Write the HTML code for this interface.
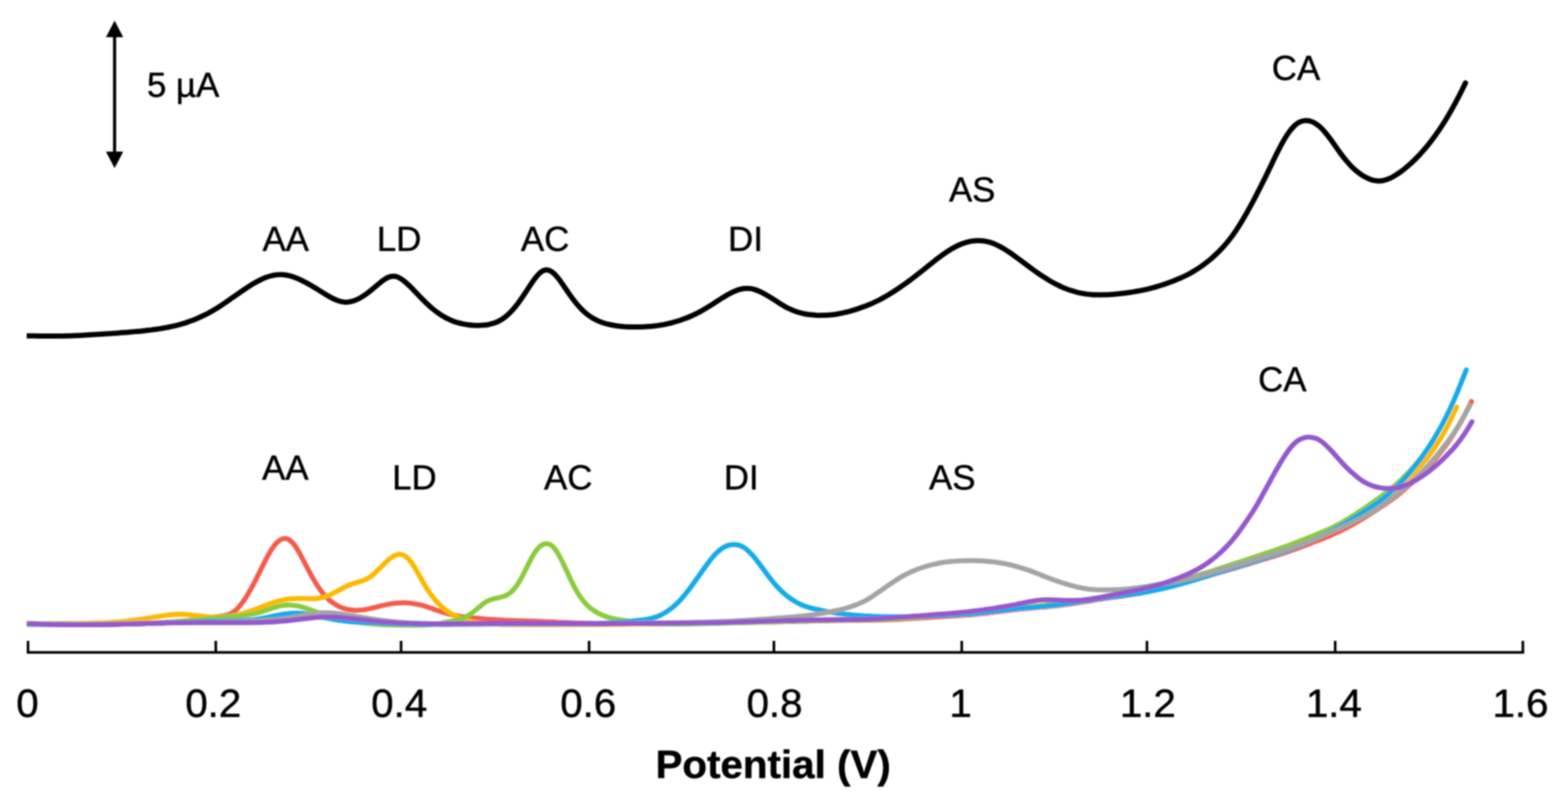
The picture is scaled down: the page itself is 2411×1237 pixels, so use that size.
<!DOCTYPE html>
<html lang="en"><head><meta charset="utf-8"><title>Potential (V)</title>
<style>html,body{margin:0;padding:0;background:#fff;}body{width:2411px;height:1237px;overflow:hidden;}svg{display:block;}text{font-family:"Liberation Sans",Arial,Helvetica,sans-serif;fill:#000;stroke:#000;stroke-width:0.7;stroke-linejoin:round;}</style></head><body>
<svg width="2411" height="1237" viewBox="0 0 2411 1237">
<defs><filter id="b" x="-2%" y="-2%" width="104%" height="104%"><feGaussianBlur stdDeviation="0.8"/></filter></defs>
<rect width="2411" height="1237" fill="#fff"/>
<g filter="url(#b)">
<clipPath id="c"><rect x="40.9" y="0" width="2400" height="1237"/></clipPath>
<g clip-path="url(#c)">
<g fill="none" stroke-width="7.6" stroke-linejoin="round" stroke-linecap="round">
<path d="M41.5,959.5C44.2,959.5 46.8,959.6 49.5,959.6C52.2,959.6 54.8,959.7 57.5,959.7C60.1,959.8 62.8,959.8 65.5,959.8C68.1,959.9 70.8,959.9 73.5,959.9C76.1,960.0 78.8,960.0 81.4,960.0C84.1,960.1 86.8,960.1 89.4,960.1C92.1,960.2 94.8,960.2 97.4,960.2C100.1,960.3 102.8,960.3 105.4,960.3C108.1,960.3 110.7,960.4 113.4,960.4C116.1,960.4 118.7,960.4 121.4,960.4C124.1,960.5 126.7,960.5 129.4,960.5C132.0,960.5 134.7,960.5 137.4,960.5C140.0,960.6 142.7,960.6 145.4,960.6C148.0,960.6 150.7,960.6 153.4,960.6C156.0,960.6 158.7,960.6 161.3,960.6C164.0,960.6 166.7,960.5 169.3,960.5C172.0,960.5 174.7,960.5 177.3,960.5C180.0,960.4 182.6,960.4 185.3,960.4C188.0,960.3 190.6,960.3 193.3,960.2C196.0,960.2 198.6,960.1 201.3,960.1C203.9,960.0 206.6,959.9 209.3,959.9C211.9,959.8 214.6,959.7 217.3,959.6C219.9,959.5 222.6,959.4 225.3,959.3C227.9,959.2 230.6,959.1 233.2,959.0C235.9,958.8 238.6,958.7 241.2,958.6C243.9,958.4 246.6,958.3 249.2,958.1C251.9,957.9 254.5,957.8 257.2,957.6C259.9,957.4 262.5,957.2 265.2,957.0C267.9,956.8 270.5,956.6 273.2,956.3C275.9,956.1 278.5,955.9 281.2,955.6C283.8,955.3 286.5,955.1 289.2,954.8C291.8,954.5 294.5,954.2 297.2,953.9C299.8,953.6 302.5,953.3 305.1,953.0C307.8,952.6 310.5,952.3 313.1,951.9C315.8,951.6 318.5,951.2 321.1,950.8C323.8,950.4 326.5,950.0 329.1,949.6C331.8,949.2 334.4,948.8 337.1,948.4C339.8,948.0 342.4,947.7 345.1,947.2C347.8,946.7 350.4,946.0 353.1,944.9C355.7,943.8 358.4,942.2 361.1,940.0C363.7,937.8 366.4,935.1 369.1,931.9C371.7,928.7 374.4,925.0 377.1,920.9C379.7,916.8 382.4,912.3 385.0,907.6C387.7,902.8 390.4,897.7 393.0,892.5C395.7,887.2 398.4,881.8 401.0,876.4C403.7,871.0 406.3,865.6 409.0,860.5C411.7,855.4 414.3,850.5 417.0,846.2C419.7,842.0 422.3,838.3 425.0,835.6C427.6,832.8 430.3,830.8 433.0,829.6C435.6,828.5 438.3,828.1 441.0,828.8C443.6,829.5 446.3,831.2 449.0,834.0C451.6,836.7 454.3,840.4 456.9,844.8C459.6,849.1 462.3,854.1 464.9,859.2C467.6,864.2 470.3,869.4 472.9,874.4C475.6,879.5 478.2,884.5 480.9,889.2C483.6,893.9 486.2,898.4 488.9,902.4C491.6,906.5 494.2,910.1 496.9,913.4C499.6,916.6 502.2,919.4 504.9,921.8C507.5,924.2 510.2,926.3 512.9,928.2C515.5,930.0 518.2,931.6 520.9,932.9C523.5,934.2 526.2,935.3 528.8,936.1C531.5,937.0 534.2,937.6 536.8,938.0C539.5,938.5 542.2,938.7 544.8,938.9C547.5,939.0 550.2,939.0 552.8,938.8C555.5,938.7 558.1,938.4 560.8,938.0C563.5,937.5 566.1,937.0 568.8,936.4C571.5,935.8 574.1,935.1 576.8,934.5C579.4,933.8 582.1,933.1 584.8,932.4C587.4,931.8 590.1,931.2 592.8,930.6C595.4,930.0 598.1,929.5 600.8,929.1C603.4,928.6 606.1,928.3 608.7,928.0C611.4,927.7 614.1,927.5 616.7,927.5C619.4,927.4 622.1,927.4 624.7,927.5C627.4,927.7 630.0,927.9 632.7,928.2C635.4,928.6 638.0,929.0 640.7,929.5C643.4,930.0 646.0,930.6 648.7,931.3C651.4,932.0 654.0,932.8 656.7,933.6C659.3,934.5 662.0,935.4 664.7,936.3C667.3,937.2 670.0,938.2 672.7,939.2C675.3,940.1 678.0,941.1 680.6,941.9C683.3,942.8 686.0,943.7 688.6,944.4C691.3,945.2 694.0,945.8 696.6,946.4C699.3,946.9 701.9,947.4 704.6,947.8C707.3,948.2 709.9,948.6 712.6,948.9C715.3,949.2 717.9,949.6 720.6,949.8C723.3,950.1 725.9,950.4 728.6,950.7C731.2,951.0 733.9,951.2 736.6,951.5C739.2,951.7 741.9,951.9 744.6,952.2C747.2,952.4 749.9,952.6 752.5,952.8C755.2,953.0 757.9,953.2 760.5,953.3C763.2,953.5 765.9,953.7 768.5,953.8C771.2,954.0 773.9,954.1 776.5,954.2C779.2,954.4 781.8,954.5 784.5,954.6C787.2,954.7 789.8,954.8 792.5,954.9C795.2,955.0 797.8,955.0 800.5,955.1C803.1,955.2 805.8,955.3 808.5,955.4C811.1,955.5 813.8,955.5 816.5,955.6C819.1,955.7 821.8,955.8 824.5,955.9C827.1,956.0 829.8,956.1 832.4,956.2C835.1,956.3 837.8,956.4 840.4,956.6C843.1,956.7 845.8,956.8 848.4,956.9C851.1,957.0 853.7,957.1 856.4,957.3C859.1,957.4 861.7,957.5 864.4,957.6C867.1,957.7 869.7,957.8 872.4,957.9C875.1,958.1 877.7,958.2 880.4,958.3C883.0,958.4 885.7,958.5 888.4,958.6C891.0,958.7 893.7,958.8 896.4,958.9C899.0,959.0 901.7,959.1 904.3,959.1C907.0,959.2 909.7,959.3 912.3,959.4C915.0,959.4 917.7,959.5 920.3,959.5C923.0,959.6 925.7,959.7 928.3,959.7C931.0,959.8 933.6,959.8 936.3,959.8C939.0,959.9 941.6,959.9 944.3,959.9C947.0,960.0 949.6,960.0 952.3,960.0C954.9,960.0 957.6,960.0 960.3,960.1C962.9,960.1 965.6,960.1 968.3,960.1C970.9,960.1 973.6,960.1 976.2,960.1C978.9,960.1 981.6,960.1 984.2,960.1C986.9,960.1 989.6,960.1 992.2,960.0C994.9,960.0 997.6,960.0 1000.2,960.0C1002.9,960.0 1005.5,960.0 1008.2,959.9C1010.9,959.9 1013.5,959.9 1016.2,959.9C1018.9,959.8 1021.5,959.8 1024.2,959.8C1026.8,959.7 1029.5,959.7 1032.2,959.7C1034.8,959.6 1037.5,959.6 1040.2,959.5C1042.8,959.5 1045.5,959.5 1048.2,959.4C1050.8,959.4 1053.5,959.3 1056.1,959.3C1058.8,959.3 1061.5,959.2 1064.1,959.2C1066.8,959.1 1069.5,959.1 1072.1,959.0C1074.8,959.0 1077.4,958.9 1080.1,958.9C1082.8,958.8 1085.4,958.8 1088.1,958.7C1090.8,958.7 1093.4,958.6 1096.1,958.6C1098.8,958.5 1101.4,958.5 1104.1,958.4C1106.7,958.4 1109.4,958.3 1112.1,958.3C1114.7,958.2 1117.4,958.2 1120.1,958.1C1122.7,958.1 1125.4,958.0 1128.0,958.0C1130.7,957.9 1133.4,957.9 1136.0,957.8C1138.7,957.8 1141.4,957.7 1144.0,957.7C1146.7,957.6 1149.4,957.6 1152.0,957.5C1154.7,957.5 1157.3,957.4 1160.0,957.4C1162.7,957.3 1165.3,957.2 1168.0,957.2C1170.7,957.1 1173.3,957.1 1176.0,957.0C1178.6,957.0 1181.3,956.9 1184.0,956.9C1186.6,956.8 1189.3,956.7 1192.0,956.7C1194.6,956.6 1197.3,956.6 1199.9,956.5C1202.6,956.4 1205.3,956.4 1207.9,956.3C1210.6,956.3 1213.3,956.2 1215.9,956.1C1218.6,956.1 1221.3,956.0 1223.9,955.9C1226.6,955.9 1229.2,955.8 1231.9,955.7C1234.6,955.7 1237.2,955.6 1239.9,955.6C1242.6,955.5 1245.2,955.4 1247.9,955.4C1250.5,955.3 1253.2,955.3 1255.9,955.2C1258.5,955.1 1261.2,955.1 1263.9,955.0C1266.5,955.0 1269.2,954.9 1271.9,954.9C1274.5,954.8 1277.2,954.8 1279.8,954.8C1282.5,954.7 1285.2,954.7 1287.8,954.6C1290.5,954.6 1293.2,954.6 1295.8,954.5C1298.5,954.5 1301.1,954.5 1303.8,954.5C1306.5,954.4 1309.1,954.4 1311.8,954.4C1314.5,954.4 1317.1,954.4 1319.8,954.4C1322.5,954.3 1325.1,954.3 1327.8,954.3C1330.4,954.3 1333.1,954.2 1335.8,954.2C1338.4,954.2 1341.1,954.1 1343.8,954.1C1346.4,954.1 1349.1,954.0 1351.7,953.9C1354.4,953.9 1357.1,953.8 1359.7,953.7C1362.4,953.6 1365.1,953.5 1367.7,953.4C1370.4,953.3 1373.1,953.2 1375.7,953.1C1378.4,952.9 1381.0,952.8 1383.7,952.6C1386.4,952.5 1389.0,952.3 1391.7,952.2C1394.4,952.0 1397.0,951.8 1399.7,951.6C1402.3,951.5 1405.0,951.3 1407.7,951.1C1410.3,950.9 1413.0,950.8 1415.7,950.6C1418.3,950.4 1421.0,950.2 1423.7,950.1C1426.3,949.9 1429.0,949.7 1431.6,949.6C1434.3,949.4 1437.0,949.3 1439.6,949.1C1442.3,949.0 1445.0,948.8 1447.6,948.7C1450.3,948.5 1452.9,948.4 1455.6,948.2C1458.3,948.1 1460.9,948.0 1463.6,947.8C1466.3,947.7 1468.9,947.5 1471.6,947.3C1474.2,947.2 1476.9,947.0 1479.6,946.8C1482.2,946.7 1484.9,946.5 1487.6,946.3C1490.2,946.1 1492.9,945.8 1495.6,945.6C1498.2,945.4 1500.9,945.1 1503.5,944.8C1506.2,944.6 1508.9,944.3 1511.5,944.0C1514.2,943.7 1516.9,943.4 1519.5,943.1C1522.2,942.8 1524.8,942.4 1527.5,942.1C1530.2,941.8 1532.8,941.4 1535.5,941.1C1538.2,940.8 1540.8,940.4 1543.5,940.1C1546.2,939.8 1548.8,939.4 1551.5,939.1C1554.1,938.8 1556.8,938.5 1559.5,938.2C1562.1,937.9 1564.8,937.6 1567.5,937.3C1570.1,937.0 1572.8,936.8 1575.4,936.5C1578.1,936.2 1580.8,936.0 1583.4,935.7C1586.1,935.5 1588.8,935.3 1591.4,935.0C1594.1,934.8 1596.8,934.6 1599.4,934.3C1602.1,934.1 1604.7,933.8 1607.4,933.6C1610.1,933.3 1612.7,933.1 1615.4,932.8C1618.1,932.5 1620.7,932.3 1623.4,932.0C1626.0,931.7 1628.7,931.4 1631.4,931.0C1634.0,930.7 1636.7,930.4 1639.4,930.0C1642.0,929.6 1644.7,929.3 1647.4,928.9C1650.0,928.5 1652.7,928.1 1655.3,927.7C1658.0,927.3 1660.7,926.9 1663.3,926.4C1666.0,926.0 1668.7,925.6 1671.3,925.2C1674.0,924.7 1676.6,924.3 1679.3,923.9C1682.0,923.5 1684.6,923.0 1687.3,922.6C1690.0,922.2 1692.6,921.8 1695.3,921.4C1698.0,921.0 1700.6,920.6 1703.3,920.3C1705.9,919.9 1708.6,919.5 1711.3,919.1C1713.9,918.8 1716.6,918.4 1719.3,918.0C1721.9,917.6 1724.6,917.3 1727.2,916.9C1729.9,916.5 1732.6,916.1 1735.2,915.6C1737.9,915.2 1740.6,914.8 1743.2,914.3C1745.9,913.9 1748.5,913.4 1751.2,912.9C1753.9,912.4 1756.5,911.9 1759.2,911.4C1761.9,910.9 1764.5,910.3 1767.2,909.8C1769.9,909.2 1772.5,908.6 1775.2,908.1C1777.8,907.5 1780.5,906.9 1783.2,906.3C1785.8,905.6 1788.5,905.0 1791.2,904.4C1793.8,903.7 1796.5,903.1 1799.1,902.4C1801.8,901.7 1804.5,901.0 1807.1,900.3C1809.8,899.6 1812.5,898.9 1815.1,898.2C1817.8,897.5 1820.5,896.7 1823.1,896.0C1825.8,895.2 1828.4,894.5 1831.1,893.7C1833.8,892.9 1836.4,892.2 1839.1,891.4C1841.8,890.6 1844.4,889.8 1847.1,889.1C1849.7,888.3 1852.4,887.5 1855.1,886.7C1857.7,886.0 1860.4,885.2 1863.1,884.4C1865.7,883.7 1868.4,882.9 1871.1,882.1C1873.7,881.3 1876.4,880.6 1879.0,879.8C1881.7,879.0 1884.4,878.3 1887.0,877.5C1889.7,876.7 1892.4,875.9 1895.0,875.1C1897.7,874.4 1900.3,873.6 1903.0,872.8C1905.7,872.0 1908.3,871.2 1911.0,870.4C1913.7,869.6 1916.3,868.8 1919.0,868.0C1921.7,867.2 1924.3,866.4 1927.0,865.6C1929.6,864.8 1932.3,864.0 1935.0,863.2C1937.6,862.4 1940.3,861.5 1943.0,860.7C1945.6,859.9 1948.3,859.1 1950.9,858.3C1953.6,857.5 1956.3,856.7 1958.9,855.8C1961.6,855.0 1964.3,854.2 1966.9,853.3C1969.6,852.5 1972.2,851.6 1974.9,850.7C1977.6,849.8 1980.2,848.9 1982.9,848.0C1985.6,847.1 1988.2,846.1 1990.9,845.1C1993.6,844.2 1996.2,843.2 1998.9,842.2C2001.5,841.2 2004.2,840.1 2006.9,839.1C2009.5,838.1 2012.2,837.1 2014.9,836.1C2017.5,835.1 2020.2,834.0 2022.8,833.0C2025.5,832.0 2028.2,831.0 2030.8,829.9C2033.5,828.9 2036.2,827.8 2038.8,826.7C2041.5,825.7 2044.2,824.5 2046.8,823.4C2049.5,822.2 2052.1,821.0 2054.8,819.8C2057.5,818.6 2060.1,817.3 2062.8,815.9C2065.5,814.6 2068.1,813.3 2070.8,811.9C2073.4,810.5 2076.1,809.0 2078.8,807.6C2081.4,806.1 2084.1,804.6 2086.8,803.1C2089.4,801.5 2092.1,800.0 2094.8,798.4C2097.4,796.8 2100.1,795.1 2102.7,793.5C2105.4,791.8 2108.1,790.1 2110.7,788.4C2113.4,786.7 2116.1,785.0 2118.7,783.2C2121.4,781.5 2124.0,779.7 2126.7,777.9C2129.4,776.1 2132.0,774.3 2134.7,772.4C2137.4,770.6 2140.0,768.7 2142.7,766.7C2145.4,764.7 2148.0,762.6 2150.7,760.5C2153.3,758.3 2156.0,756.1 2158.7,753.8C2161.3,751.4 2164.0,749.1 2166.7,746.7C2169.3,744.4 2172.0,742.0 2174.6,739.7C2177.3,737.3 2180.0,734.9 2182.6,732.4C2185.3,729.9 2188.0,727.3 2190.6,724.6C2193.3,721.8 2196.0,718.9 2198.6,715.9C2201.3,712.9 2203.9,709.7 2206.6,706.5C2209.3,703.3 2211.9,699.9 2214.6,696.5C2217.3,693.1 2219.9,689.6 2222.6,686.0C2225.2,682.3 2227.9,678.6 2230.6,674.6C2233.2,670.7 2235.9,666.6 2238.6,662.3C2241.2,657.9 2243.9,653.4 2246.5,648.6C2249.2,643.8 2251.9,638.8 2254.5,633.6C2257.2,628.5 2259.9,623.1 2262.5,617.8" stroke="#f35b4c"/>
<path d="M41.5,959.5C44.2,959.5 46.8,959.5 49.5,959.5C52.2,959.5 54.8,959.5 57.5,959.5C60.2,959.5 62.8,959.5 65.5,959.5C68.1,959.5 70.8,959.5 73.5,959.5C76.1,959.5 78.8,959.5 81.5,959.5C84.1,959.5 86.8,959.5 89.5,959.4C92.1,959.4 94.8,959.4 97.5,959.4C100.1,959.4 102.8,959.4 105.4,959.3C108.1,959.3 110.8,959.3 113.4,959.3C116.1,959.2 118.8,959.2 121.4,959.1C124.1,959.1 126.8,959.1 129.4,959.0C132.1,959.0 134.8,958.9 137.4,958.9C140.1,958.8 142.8,958.7 145.4,958.6C148.1,958.6 150.7,958.5 153.4,958.4C156.1,958.3 158.7,958.2 161.4,958.1C164.1,957.9 166.7,957.8 169.4,957.6C172.1,957.5 174.7,957.3 177.4,957.1C180.1,956.9 182.7,956.7 185.4,956.5C188.0,956.3 190.7,956.0 193.4,955.7C196.0,955.5 198.7,955.2 201.4,954.8C204.0,954.5 206.7,954.1 209.4,953.8C212.0,953.4 214.7,953.0 217.4,952.6C220.0,952.2 222.7,951.8 225.4,951.4C228.0,950.9 230.7,950.5 233.3,950.1C236.0,949.6 238.7,949.2 241.3,948.8C244.0,948.3 246.7,947.9 249.3,947.5C252.0,947.1 254.7,946.7 257.3,946.4C260.0,946.1 262.7,945.8 265.3,945.6C268.0,945.3 270.6,945.2 273.3,945.1C276.0,945.0 278.6,945.0 281.3,945.1C284.0,945.2 286.6,945.4 289.3,945.7C292.0,945.9 294.6,946.2 297.3,946.5C300.0,946.8 302.6,947.1 305.3,947.4C308.0,947.7 310.6,948.1 313.3,948.3C315.9,948.6 318.6,948.9 321.3,949.1C323.9,949.2 326.6,949.4 329.3,949.4C331.9,949.5 334.6,949.5 337.3,949.4C339.9,949.3 342.6,949.2 345.3,948.9C347.9,948.7 350.6,948.4 353.2,948.1C355.9,947.7 358.6,947.2 361.2,946.7C363.9,946.2 366.6,945.6 369.2,945.0C371.9,944.3 374.6,943.6 377.2,942.8C379.9,942.0 382.6,941.1 385.2,940.2C387.9,939.3 390.6,938.3 393.2,937.3C395.9,936.3 398.5,935.3 401.2,934.2C403.9,933.2 406.5,932.1 409.2,931.1C411.9,930.1 414.5,929.1 417.2,928.2C419.9,927.3 422.5,926.4 425.2,925.6C427.9,924.8 430.5,924.1 433.2,923.5C435.8,922.9 438.5,922.4 441.2,922.0C443.8,921.6 446.5,921.3 449.2,921.1C451.8,920.9 454.5,920.8 457.2,920.8C459.8,920.7 462.5,920.8 465.2,920.8C467.8,920.9 470.5,921.0 473.2,921.1C475.8,921.1 478.5,921.2 481.1,921.1C483.8,921.1 486.5,920.9 489.1,920.5C491.8,920.2 494.5,919.7 497.1,919.0C499.8,918.3 502.5,917.4 505.1,916.3C507.8,915.2 510.5,913.9 513.1,912.5C515.8,911.1 518.5,909.6 521.1,908.1C523.8,906.6 526.4,905.2 529.1,903.8C531.8,902.4 534.4,901.2 537.1,900.1C539.8,899.0 542.4,898.1 545.1,897.3C547.8,896.4 550.4,895.7 553.1,894.9C555.8,894.1 558.4,893.3 561.1,892.1C563.7,891.0 566.4,889.5 569.1,887.7C571.7,885.8 574.4,883.5 577.1,881.1C579.7,878.6 582.4,876.0 585.1,873.3C587.7,870.6 590.4,867.9 593.1,865.3C595.7,862.7 598.4,860.3 601.1,858.3C603.7,856.3 606.4,854.7 609.0,853.8C611.7,852.9 614.4,852.6 617.0,853.1C619.7,853.6 622.4,854.9 625.0,857.1C627.7,859.3 630.4,862.3 633.0,866.0C635.7,869.7 638.4,874.1 641.0,878.8C643.7,883.4 646.3,888.3 649.0,893.1C651.7,897.8 654.3,902.3 657.0,906.5C659.7,910.6 662.3,914.4 665.0,917.8C667.7,921.3 670.3,924.5 673.0,927.3C675.7,930.2 678.3,932.8 681.0,935.1C683.7,937.3 686.3,939.4 689.0,941.2C691.6,943.0 694.3,944.7 697.0,946.1C699.6,947.6 702.3,948.9 705.0,950.0C707.6,951.2 710.3,952.2 713.0,953.0C715.6,953.9 718.3,954.7 721.0,955.3C723.6,955.9 726.3,956.5 728.9,957.0C731.6,957.4 734.3,957.8 736.9,958.2C739.6,958.5 742.3,958.8 744.9,959.1C747.6,959.3 750.3,959.5 752.9,959.7C755.6,959.9 758.3,960.1 760.9,960.2C763.6,960.4 766.3,960.5 768.9,960.6C771.6,960.7 774.2,960.7 776.9,960.8C779.6,960.8 782.2,960.9 784.9,960.9C787.6,960.9 790.2,961.0 792.9,961.0C795.6,961.0 798.2,961.0 800.9,961.0C803.6,961.0 806.2,961.0 808.9,961.0C811.5,961.0 814.2,961.1 816.9,961.1C819.5,961.1 822.2,961.1 824.9,961.1C827.5,961.1 830.2,961.1 832.9,961.1C835.5,961.1 838.2,961.1 840.9,961.1C843.5,961.1 846.2,961.1 848.9,961.1C851.5,961.1 854.2,961.1 856.8,961.1C859.5,961.1 862.2,961.1 864.8,961.1C867.5,961.1 870.2,961.1 872.8,961.1C875.5,961.1 878.2,961.1 880.8,961.1C883.5,961.1 886.2,961.1 888.8,961.0C891.5,961.0 894.1,961.0 896.8,961.0C899.5,961.0 902.1,961.0 904.8,961.0C907.5,961.0 910.1,960.9 912.8,960.9C915.5,960.9 918.1,960.9 920.8,960.9C923.5,960.9 926.1,960.8 928.8,960.8C931.5,960.8 934.1,960.8 936.8,960.8C939.4,960.7 942.1,960.7 944.8,960.7C947.4,960.7 950.1,960.6 952.8,960.6C955.4,960.6 958.1,960.6 960.8,960.5C963.4,960.5 966.1,960.5 968.8,960.4C971.4,960.4 974.1,960.4 976.7,960.3C979.4,960.3 982.1,960.3 984.7,960.2C987.4,960.2 990.1,960.2 992.7,960.1C995.4,960.1 998.1,960.0 1000.7,960.0C1003.4,959.9 1006.1,959.9 1008.7,959.9C1011.4,959.8 1014.1,959.8 1016.7,959.7C1019.4,959.7 1022.0,959.6 1024.7,959.6C1027.4,959.5 1030.0,959.5 1032.7,959.4C1035.4,959.4 1038.0,959.3 1040.7,959.3C1043.4,959.2 1046.0,959.2 1048.7,959.1C1051.4,959.1 1054.0,959.0 1056.7,959.0C1059.3,958.9 1062.0,958.8 1064.7,958.8C1067.3,958.7 1070.0,958.7 1072.7,958.6C1075.3,958.6 1078.0,958.5 1080.7,958.4C1083.3,958.4 1086.0,958.3 1088.7,958.3C1091.3,958.2 1094.0,958.1 1096.7,958.1C1099.3,958.0 1102.0,958.0 1104.6,957.9C1107.3,957.8 1110.0,957.8 1112.6,957.7C1115.3,957.6 1118.0,957.6 1120.6,957.5C1123.3,957.5 1126.0,957.4 1128.6,957.3C1131.3,957.3 1134.0,957.2 1136.6,957.1C1139.3,957.1 1141.9,957.0 1144.6,957.0C1147.3,956.9 1149.9,956.8 1152.6,956.8C1155.3,956.7 1157.9,956.6 1160.6,956.6C1163.3,956.5 1165.9,956.4 1168.6,956.3C1171.3,956.3 1173.9,956.2 1176.6,956.1C1179.3,956.1 1181.9,956.0 1184.6,955.9C1187.2,955.9 1189.9,955.8 1192.6,955.7C1195.2,955.6 1197.9,955.6 1200.6,955.5C1203.2,955.4 1205.9,955.3 1208.6,955.3C1211.2,955.2 1213.9,955.1 1216.6,955.0C1219.2,954.9 1221.9,954.9 1224.5,954.8C1227.2,954.7 1229.9,954.6 1232.5,954.6C1235.2,954.5 1237.9,954.4 1240.5,954.3C1243.2,954.3 1245.9,954.2 1248.5,954.1C1251.2,954.0 1253.9,954.0 1256.5,953.9C1259.2,953.8 1261.9,953.8 1264.5,953.7C1267.2,953.6 1269.8,953.6 1272.5,953.5C1275.2,953.5 1277.8,953.4 1280.5,953.3C1283.2,953.3 1285.8,953.2 1288.5,953.2C1291.2,953.1 1293.8,953.1 1296.5,953.1C1299.2,953.0 1301.8,953.0 1304.5,952.9C1307.2,952.9 1309.8,952.9 1312.5,952.8C1315.1,952.8 1317.8,952.8 1320.5,952.7C1323.1,952.7 1325.8,952.7 1328.5,952.6C1331.1,952.6 1333.8,952.6 1336.5,952.5C1339.1,952.4 1341.8,952.4 1344.5,952.3C1347.1,952.2 1349.8,952.2 1352.4,952.1C1355.1,952.0 1357.8,951.9 1360.4,951.8C1363.1,951.6 1365.8,951.5 1368.4,951.4C1371.1,951.2 1373.8,951.0 1376.4,950.9C1379.1,950.7 1381.8,950.5 1384.4,950.3C1387.1,950.1 1389.8,949.9 1392.4,949.7C1395.1,949.5 1397.7,949.3 1400.4,949.1C1403.1,948.8 1405.7,948.6 1408.4,948.4C1411.1,948.2 1413.7,948.0 1416.4,947.7C1419.1,947.5 1421.7,947.3 1424.4,947.1C1427.1,946.9 1429.7,946.7 1432.4,946.5C1435.0,946.3 1437.7,946.2 1440.4,946.0C1443.0,945.8 1445.7,945.7 1448.4,945.5C1451.0,945.4 1453.7,945.2 1456.4,945.1C1459.0,944.9 1461.7,944.8 1464.4,944.6C1467.0,944.5 1469.7,944.3 1472.4,944.2C1475.0,944.0 1477.7,943.8 1480.3,943.7C1483.0,943.5 1485.7,943.3 1488.3,943.1C1491.0,942.9 1493.7,942.7 1496.3,942.5C1499.0,942.3 1501.7,942.1 1504.3,941.8C1507.0,941.6 1509.7,941.3 1512.3,941.0C1515.0,940.7 1517.6,940.5 1520.3,940.2C1523.0,939.9 1525.6,939.6 1528.3,939.3C1531.0,939.0 1533.6,938.6 1536.3,938.3C1539.0,938.0 1541.6,937.7 1544.3,937.4C1547.0,937.1 1549.6,936.8 1552.3,936.5C1555.0,936.2 1557.6,935.9 1560.3,935.6C1562.9,935.3 1565.6,935.0 1568.3,934.7C1570.9,934.4 1573.6,934.2 1576.3,933.9C1578.9,933.7 1581.6,933.4 1584.3,933.2C1586.9,932.9 1589.6,932.7 1592.3,932.4C1594.9,932.2 1597.6,931.9 1600.2,931.7C1602.9,931.5 1605.6,931.2 1608.2,930.9C1610.9,930.7 1613.6,930.4 1616.2,930.1C1618.9,929.9 1621.6,929.6 1624.2,929.3C1626.9,929.0 1629.6,928.7 1632.2,928.3C1634.9,928.0 1637.6,927.7 1640.2,927.3C1642.9,927.0 1645.5,926.6 1648.2,926.2C1650.9,925.8 1653.5,925.4 1656.2,925.0C1658.9,924.6 1661.5,924.2 1664.2,923.8C1666.9,923.4 1669.5,923.0 1672.2,922.6C1674.9,922.1 1677.5,921.7 1680.2,921.3C1682.8,920.9 1685.5,920.4 1688.2,920.0C1690.8,919.6 1693.5,919.2 1696.2,918.8C1698.8,918.4 1701.5,918.0 1704.2,917.6C1706.8,917.2 1709.5,916.8 1712.2,916.4C1714.8,916.0 1717.5,915.6 1720.2,915.2C1722.8,914.8 1725.5,914.4 1728.1,914.0C1730.8,913.6 1733.5,913.1 1736.1,912.7C1738.8,912.2 1741.5,911.8 1744.1,911.3C1746.8,910.8 1749.5,910.4 1752.1,909.9C1754.8,909.4 1757.5,908.9 1760.1,908.3C1762.8,907.8 1765.4,907.3 1768.1,906.7C1770.8,906.2 1773.4,905.6 1776.1,905.0C1778.8,904.4 1781.4,903.8 1784.1,903.2C1786.8,902.6 1789.4,901.9 1792.1,901.3C1794.8,900.6 1797.4,900.0 1800.1,899.3C1802.8,898.6 1805.4,897.9 1808.1,897.2C1810.7,896.4 1813.4,895.7 1816.1,894.9C1818.7,894.2 1821.4,893.4 1824.1,892.6C1826.7,891.8 1829.4,891.0 1832.1,890.2C1834.7,889.4 1837.4,888.6 1840.1,887.8C1842.7,886.9 1845.4,886.1 1848.0,885.3C1850.7,884.5 1853.4,883.7 1856.0,882.9C1858.7,882.1 1861.4,881.2 1864.0,880.4C1866.7,879.6 1869.4,878.8 1872.0,878.0C1874.7,877.2 1877.4,876.4 1880.0,875.7C1882.7,874.9 1885.4,874.1 1888.0,873.3C1890.7,872.5 1893.3,871.7 1896.0,870.9C1898.7,870.1 1901.3,869.3 1904.0,868.5C1906.7,867.7 1909.3,866.8 1912.0,866.0C1914.7,865.2 1917.3,864.4 1920.0,863.6C1922.7,862.8 1925.3,861.9 1928.0,861.1C1930.6,860.3 1933.3,859.4 1936.0,858.6C1938.6,857.7 1941.3,856.9 1944.0,856.0C1946.6,855.1 1949.3,854.3 1952.0,853.4C1954.6,852.5 1957.3,851.6 1960.0,850.7C1962.6,849.8 1965.3,848.9 1968.0,848.0C1970.6,847.0 1973.3,846.1 1975.9,845.1C1978.6,844.2 1981.3,843.2 1983.9,842.2C1986.6,841.2 1989.3,840.2 1991.9,839.2C1994.6,838.2 1997.3,837.1 1999.9,836.1C2002.6,835.0 2005.3,834.0 2007.9,832.9C2010.6,831.8 2013.2,830.7 2015.9,829.6C2018.6,828.5 2021.2,827.4 2023.9,826.3C2026.6,825.1 2029.2,824.0 2031.9,822.8C2034.6,821.6 2037.2,820.4 2039.9,819.2C2042.6,818.0 2045.2,816.8 2047.9,815.5C2050.6,814.2 2053.2,813.0 2055.9,811.6C2058.5,810.3 2061.2,809.0 2063.9,807.6C2066.5,806.3 2069.2,804.9 2071.9,803.4C2074.5,802.0 2077.2,800.6 2079.9,799.1C2082.5,797.6 2085.2,796.1 2087.9,794.5C2090.5,792.9 2093.2,791.3 2095.9,789.7C2098.5,788.1 2101.2,786.4 2103.8,784.7C2106.5,783.0 2109.2,781.2 2111.8,779.4C2114.5,777.6 2117.2,775.8 2119.8,773.9C2122.5,772.0 2125.2,770.1 2127.8,768.1C2130.5,766.2 2133.2,764.1 2135.8,762.1C2138.5,760.0 2141.1,757.9 2143.8,755.7C2146.5,753.6 2149.1,751.3 2151.8,749.1C2154.5,746.8 2157.1,744.5 2159.8,742.1C2162.5,739.7 2165.1,737.2 2167.8,734.7C2170.5,732.1 2173.1,729.4 2175.8,726.6C2178.5,723.8 2181.1,720.9 2183.8,717.8C2186.4,714.7 2189.1,711.5 2191.8,708.2C2194.4,704.8 2197.1,701.3 2199.8,697.6C2202.4,693.9 2205.1,690.1 2207.8,686.0C2210.4,682.0 2213.1,677.7 2215.8,673.3C2218.4,668.8 2221.1,664.1 2223.7,659.2C2226.4,654.2 2229.1,649.0 2231.7,643.5C2234.4,638.0 2237.1,632.2 2239.7,626.3" stroke="#fcb900"/>
<path d="M41.5,959.5C44.2,959.5 46.8,959.6 49.5,959.6C52.1,959.7 54.8,959.7 57.5,959.7C60.1,959.8 62.8,959.8 65.4,959.8C68.1,959.9 70.7,959.9 73.4,959.9C76.1,960.0 78.7,960.0 81.4,960.0C84.0,960.1 86.7,960.1 89.4,960.1C92.0,960.2 94.7,960.2 97.3,960.2C100.0,960.3 102.7,960.3 105.3,960.3C108.0,960.3 110.6,960.4 113.3,960.4C115.9,960.4 118.6,960.4 121.3,960.4C123.9,960.5 126.6,960.5 129.2,960.5C131.9,960.5 134.6,960.5 137.2,960.5C139.9,960.5 142.5,960.6 145.2,960.6C147.9,960.6 150.5,960.6 153.2,960.6C155.8,960.6 158.5,960.5 161.1,960.5C163.8,960.5 166.5,960.5 169.1,960.5C171.8,960.5 174.4,960.5 177.1,960.4C179.8,960.4 182.4,960.4 185.1,960.3C187.7,960.3 190.4,960.2 193.1,960.2C195.7,960.1 198.4,960.1 201.0,960.0C203.7,960.0 206.3,959.9 209.0,959.8C211.7,959.7 214.3,959.7 217.0,959.6C219.6,959.5 222.3,959.4 225.0,959.3C227.6,959.2 230.3,959.0 232.9,958.9C235.6,958.8 238.3,958.7 240.9,958.5C243.6,958.4 246.2,958.2 248.9,958.1C251.5,957.9 254.2,957.8 256.9,957.6C259.5,957.4 262.2,957.2 264.8,957.0C267.5,956.8 270.2,956.6 272.8,956.4C275.5,956.2 278.1,955.9 280.8,955.7C283.5,955.5 286.1,955.2 288.8,955.0C291.4,954.7 294.1,954.5 296.7,954.2C299.4,954.0 302.1,953.7 304.7,953.5C307.4,953.2 310.0,953.0 312.7,952.7C315.4,952.4 318.0,952.2 320.7,951.9C323.3,951.7 326.0,951.4 328.7,951.2C331.3,950.9 334.0,950.7 336.6,950.5C339.3,950.2 341.9,950.0 344.6,949.8C347.3,949.5 349.9,949.3 352.6,949.1C355.2,948.9 357.9,948.7 360.6,948.5C363.2,948.2 365.9,948.0 368.5,947.7C371.2,947.4 373.9,947.1 376.5,946.8C379.2,946.4 381.8,946.0 384.5,945.5C387.1,945.1 389.8,944.5 392.5,943.9C395.1,943.3 397.8,942.6 400.4,941.8C403.1,941.0 405.8,940.1 408.4,939.2C411.1,938.3 413.7,937.4 416.4,936.5C419.1,935.6 421.7,934.7 424.4,933.9C427.0,933.2 429.7,932.5 432.3,931.9C435.0,931.4 437.7,931.1 440.3,930.9C443.0,930.8 445.6,930.8 448.3,931.0C451.0,931.2 453.6,931.6 456.3,932.1C458.9,932.6 461.6,933.2 464.3,933.9C466.9,934.7 469.6,935.5 472.2,936.4C474.9,937.3 477.5,938.2 480.2,939.2C482.9,940.1 485.5,941.1 488.2,942.1C490.8,943.1 493.5,944.1 496.2,945.0C498.8,945.9 501.5,946.8 504.1,947.6C506.8,948.4 509.5,949.1 512.1,949.8C514.8,950.5 517.4,951.2 520.1,951.8C522.7,952.4 525.4,953.0 528.1,953.5C530.7,954.1 533.4,954.6 536.0,955.1C538.7,955.6 541.4,956.0 544.0,956.4C546.7,956.9 549.3,957.3 552.0,957.7C554.7,958.0 557.3,958.4 560.0,958.7C562.6,959.0 565.3,959.3 567.9,959.5C570.6,959.8 573.3,960.0 575.9,960.2C578.6,960.4 581.2,960.6 583.9,960.7C586.6,960.9 589.2,961.0 591.9,961.1C594.5,961.2 597.2,961.3 599.9,961.4C602.5,961.5 605.2,961.6 607.8,961.7C610.5,961.7 613.1,961.8 615.8,961.8C618.5,961.9 621.1,961.9 623.8,962.0C626.4,962.0 629.1,962.0 631.8,962.0C634.4,962.0 637.1,962.0 639.7,962.0C642.4,961.9 645.1,961.9 647.7,961.8C650.4,961.7 653.0,961.5 655.7,961.3C658.3,961.1 661.0,960.9 663.7,960.6C666.3,960.4 669.0,960.0 671.6,959.7C674.3,959.3 677.0,958.9 679.6,958.5C682.3,958.0 684.9,957.5 687.6,957.0C690.3,956.5 692.9,955.9 695.6,955.4C698.2,954.8 700.9,954.2 703.5,953.5C706.2,952.8 708.9,952.0 711.5,951.0C714.2,950.0 716.8,948.7 719.5,947.1C722.2,945.6 724.8,943.7 727.5,941.7C730.1,939.7 732.8,937.5 735.5,935.2C738.1,933.0 740.8,930.8 743.4,928.8C746.1,926.8 748.7,925.1 751.4,923.9C754.1,922.6 756.7,921.8 759.4,921.1C762.0,920.5 764.7,920.0 767.4,919.5C770.0,918.9 772.7,918.3 775.3,917.3C778.0,916.3 780.7,914.9 783.3,913.0C786.0,911.0 788.6,908.5 791.3,905.3C793.9,902.1 796.6,898.2 799.3,893.6C801.9,889.0 804.6,883.8 807.2,878.4C809.9,873.1 812.6,867.6 815.2,862.5C817.9,857.4 820.5,852.7 823.2,848.9C825.9,845.1 828.5,842.0 831.2,839.9C833.8,837.8 836.5,836.6 839.1,836.4C841.8,836.1 844.5,836.8 847.1,838.6C849.8,840.3 852.4,843.3 855.1,847.2C857.8,851.1 860.4,855.9 863.1,861.1C865.7,866.4 868.4,872.0 871.1,877.8C873.7,883.5 876.4,889.3 879.0,894.8C881.7,900.3 884.3,905.4 887.0,910.0C889.7,914.5 892.3,918.6 895.0,922.1C897.6,925.7 900.3,928.6 903.0,931.2C905.6,933.8 908.3,936.0 910.9,937.9C913.6,939.8 916.3,941.5 918.9,942.9C921.6,944.4 924.2,945.6 926.9,946.7C929.5,947.8 932.2,948.7 934.9,949.5C937.5,950.4 940.2,951.1 942.8,951.7C945.5,952.3 948.2,952.8 950.8,953.3C953.5,953.8 956.1,954.2 958.8,954.6C961.5,955.0 964.1,955.4 966.8,955.7C969.4,956.1 972.1,956.4 974.7,956.7C977.4,957.0 980.1,957.3 982.7,957.5C985.4,957.8 988.0,958.0 990.7,958.3C993.4,958.5 996.0,958.7 998.7,958.9C1001.3,959.1 1004.0,959.3 1006.7,959.4C1009.3,959.5 1012.0,959.7 1014.6,959.8C1017.3,959.9 1019.9,960.0 1022.6,960.0C1025.3,960.1 1027.9,960.1 1030.6,960.2C1033.2,960.2 1035.9,960.2 1038.6,960.2C1041.2,960.3 1043.9,960.3 1046.5,960.2C1049.2,960.2 1051.9,960.2 1054.5,960.2C1057.2,960.1 1059.8,960.1 1062.5,960.0C1065.1,960.0 1067.8,959.9 1070.5,959.8C1073.1,959.8 1075.8,959.7 1078.4,959.6C1081.1,959.6 1083.8,959.5 1086.4,959.4C1089.1,959.3 1091.7,959.2 1094.4,959.2C1097.1,959.1 1099.7,959.0 1102.4,958.9C1105.0,958.9 1107.7,958.8 1110.3,958.7C1113.0,958.6 1115.7,958.6 1118.3,958.5C1121.0,958.4 1123.6,958.4 1126.3,958.3C1129.0,958.2 1131.6,958.2 1134.3,958.1C1136.9,958.0 1139.6,958.0 1142.3,957.9C1144.9,957.8 1147.6,957.8 1150.2,957.7C1152.9,957.7 1155.5,957.6 1158.2,957.5C1160.9,957.5 1163.5,957.4 1166.2,957.3C1168.8,957.3 1171.5,957.2 1174.2,957.1C1176.8,957.1 1179.5,957.0 1182.1,957.0C1184.8,956.9 1187.5,956.8 1190.1,956.8C1192.8,956.7 1195.4,956.6 1198.1,956.5C1200.7,956.5 1203.4,956.4 1206.1,956.3C1208.7,956.3 1211.4,956.2 1214.0,956.1C1216.7,956.0 1219.4,956.0 1222.0,955.9C1224.7,955.8 1227.3,955.7 1230.0,955.7C1232.7,955.6 1235.3,955.5 1238.0,955.4C1240.6,955.4 1243.3,955.3 1245.9,955.2C1248.6,955.1 1251.3,955.1 1253.9,955.0C1256.6,954.9 1259.2,954.9 1261.9,954.8C1264.6,954.7 1267.2,954.7 1269.9,954.6C1272.5,954.5 1275.2,954.5 1277.9,954.4C1280.5,954.4 1283.2,954.3 1285.8,954.2C1288.5,954.2 1291.1,954.1 1293.8,954.1C1296.5,954.1 1299.1,954.0 1301.8,954.0C1304.4,953.9 1307.1,953.9 1309.8,953.9C1312.4,953.8 1315.1,953.8 1317.7,953.8C1320.4,953.7 1323.1,953.7 1325.7,953.7C1328.4,953.6 1331.0,953.6 1333.7,953.5C1336.3,953.5 1339.0,953.4 1341.7,953.4C1344.3,953.3 1347.0,953.2 1349.6,953.2C1352.3,953.1 1355.0,953.0 1357.6,952.9C1360.3,952.8 1362.9,952.7 1365.6,952.5C1368.3,952.4 1370.9,952.2 1373.6,952.1C1376.2,951.9 1378.9,951.7 1381.5,951.5C1384.2,951.3 1386.9,951.1 1389.5,950.9C1392.2,950.7 1394.8,950.5 1397.5,950.3C1400.2,950.1 1402.8,949.8 1405.5,949.6C1408.1,949.4 1410.8,949.2 1413.5,949.0C1416.1,948.8 1418.8,948.5 1421.4,948.3C1424.1,948.1 1426.7,947.9 1429.4,947.7C1432.1,947.5 1434.7,947.4 1437.4,947.2C1440.0,947.0 1442.7,946.9 1445.4,946.7C1448.0,946.6 1450.7,946.4 1453.3,946.3C1456.0,946.1 1458.7,946.0 1461.3,945.8C1464.0,945.7 1466.6,945.5 1469.3,945.4C1471.9,945.2 1474.6,945.1 1477.3,944.9C1479.9,944.7 1482.6,944.6 1485.2,944.4C1487.9,944.2 1490.6,944.0 1493.2,943.8C1495.9,943.6 1498.5,943.3 1501.2,943.1C1503.9,942.8 1506.5,942.6 1509.2,942.3C1511.8,942.0 1514.5,941.7 1517.1,941.4C1519.8,941.1 1522.5,940.8 1525.1,940.5C1527.8,940.1 1530.4,939.8 1533.1,939.5C1535.8,939.2 1538.4,938.8 1541.1,938.5C1543.7,938.1 1546.4,937.8 1549.1,937.5C1551.7,937.1 1554.4,936.8 1557.0,936.5C1559.7,936.2 1562.3,935.9 1565.0,935.6C1567.7,935.3 1570.3,935.0 1573.0,934.7C1575.6,934.4 1578.3,934.1 1581.0,933.9C1583.6,933.6 1586.3,933.3 1588.9,933.1C1591.6,932.8 1594.3,932.5 1596.9,932.3C1599.6,932.0 1602.2,931.7 1604.9,931.5C1607.5,931.2 1610.2,930.9 1612.9,930.6C1615.5,930.3 1618.2,930.0 1620.8,929.7C1623.5,929.4 1626.2,929.1 1628.8,928.8C1631.5,928.4 1634.1,928.1 1636.8,927.7C1639.5,927.4 1642.1,927.0 1644.8,926.6C1647.4,926.2 1650.1,925.8 1652.7,925.4C1655.4,924.9 1658.1,924.5 1660.7,924.1C1663.4,923.7 1666.0,923.2 1668.7,922.8C1671.4,922.4 1674.0,921.9 1676.7,921.5C1679.3,921.0 1682.0,920.6 1684.7,920.2C1687.3,919.7 1690.0,919.3 1692.6,918.9C1695.3,918.4 1697.9,918.0 1700.6,917.6C1703.3,917.2 1705.9,916.8 1708.6,916.4C1711.2,916.0 1713.9,915.6 1716.6,915.2C1719.2,914.7 1721.9,914.3 1724.5,913.9C1727.2,913.5 1729.9,913.0 1732.5,912.6C1735.2,912.1 1737.8,911.6 1740.5,911.1C1743.1,910.7 1745.8,910.1 1748.5,909.6C1751.1,909.1 1753.8,908.5 1756.4,908.0C1759.1,907.4 1761.8,906.8 1764.4,906.2C1767.1,905.7 1769.7,905.0 1772.4,904.4C1775.1,903.8 1777.7,903.2 1780.4,902.5C1783.0,901.9 1785.7,901.2 1788.3,900.5C1791.0,899.8 1793.7,899.1 1796.3,898.4C1799.0,897.7 1801.6,897.0 1804.3,896.3C1807.0,895.5 1809.6,894.8 1812.3,894.0C1814.9,893.3 1817.6,892.5 1820.3,891.7C1822.9,891.0 1825.6,890.2 1828.2,889.4C1830.9,888.6 1833.5,887.8 1836.2,887.0C1838.9,886.1 1841.5,885.3 1844.2,884.5C1846.8,883.7 1849.5,882.8 1852.2,882.0C1854.8,881.2 1857.5,880.3 1860.1,879.5C1862.8,878.7 1865.5,877.8 1868.1,877.0C1870.8,876.1 1873.4,875.3 1876.1,874.4C1878.7,873.6 1881.4,872.7 1884.1,871.8C1886.7,871.0 1889.4,870.1 1892.0,869.2C1894.7,868.4 1897.4,867.5 1900.0,866.6C1902.7,865.8 1905.3,864.9 1908.0,864.0C1910.7,863.1 1913.3,862.3 1916.0,861.4C1918.6,860.5 1921.3,859.6 1923.9,858.7C1926.6,857.8 1929.3,857.0 1931.9,856.1C1934.6,855.2 1937.2,854.3 1939.9,853.4C1942.6,852.5 1945.2,851.6 1947.9,850.7C1950.5,849.9 1953.2,849.0 1955.9,848.1C1958.5,847.2 1961.2,846.3 1963.8,845.4C1966.5,844.4 1969.1,843.5 1971.8,842.6C1974.5,841.7 1977.1,840.7 1979.8,839.7C1982.4,838.8 1985.1,837.8 1987.8,836.8C1990.4,835.7 1993.1,834.7 1995.7,833.7C1998.4,832.6 2001.1,831.6 2003.7,830.5C2006.4,829.5 2009.0,828.4 2011.7,827.3C2014.3,826.3 2017.0,825.2 2019.7,824.2C2022.3,823.1 2025.0,822.0 2027.6,820.9C2030.3,819.9 2033.0,818.7 2035.6,817.6C2038.3,816.5 2040.9,815.3 2043.6,814.0C2046.3,812.8 2048.9,811.5 2051.6,810.2C2054.2,808.8 2056.9,807.4 2059.5,806.0C2062.2,804.5 2064.9,803.0 2067.5,801.4C2070.2,799.9 2072.8,798.3 2075.5,796.6C2078.2,795.0 2080.8,793.3 2083.5,791.6C2086.1,789.8 2088.8,788.1 2091.5,786.3C2094.1,784.6 2096.8,782.8 2099.4,781.0C2102.1,779.1 2104.7,777.3 2107.4,775.5C2110.1,773.6 2112.7,771.7 2115.4,769.8C2118.0,767.9 2120.7,766.0 2123.4,764.0C2126.0,762.0 2128.7,760.0 2131.3,758.0C2134.0,755.9 2136.7,753.9 2139.3,751.7C2142.0,749.5 2144.6,747.3 2147.3,744.9C2149.9,742.5 2152.6,740.1 2155.3,737.5C2157.9,734.9 2160.6,732.2 2163.2,729.4C2165.9,726.6 2168.6,723.7 2171.2,720.7C2173.9,717.8 2176.5,714.7 2179.2,711.5C2181.9,708.3 2184.5,705.0 2187.2,701.5C2189.8,698.1 2192.5,694.4 2195.1,690.7C2197.8,687.0 2200.5,683.2 2203.1,679.3" stroke="#8bcb3d"/>
<path d="M41.5,960.5C44.2,960.5 46.8,960.6 49.5,960.6C52.2,960.6 54.8,960.6 57.5,960.7C60.1,960.7 62.8,960.7 65.5,960.7C68.1,960.8 70.8,960.8 73.5,960.8C76.1,960.8 78.8,960.9 81.4,960.9C84.1,960.9 86.8,960.9 89.4,960.9C92.1,960.9 94.8,961.0 97.4,961.0C100.1,961.0 102.8,961.0 105.4,961.0C108.1,961.0 110.7,961.0 113.4,961.0C116.1,961.0 118.7,961.0 121.4,961.0C124.1,961.0 126.7,961.0 129.4,961.0C132.0,961.0 134.7,961.0 137.4,961.0C140.0,960.9 142.7,960.9 145.4,960.9C148.0,960.9 150.7,960.9 153.3,960.8C156.0,960.8 158.7,960.8 161.3,960.7C164.0,960.7 166.7,960.6 169.3,960.6C172.0,960.6 174.7,960.5 177.3,960.5C180.0,960.4 182.6,960.4 185.3,960.3C188.0,960.3 190.6,960.2 193.3,960.2C196.0,960.1 198.6,960.0 201.3,960.0C203.9,959.9 206.6,959.8 209.3,959.8C211.9,959.7 214.6,959.6 217.3,959.6C219.9,959.5 222.6,959.4 225.3,959.3C227.9,959.2 230.6,959.2 233.2,959.1C235.9,959.0 238.6,958.9 241.2,958.8C243.9,958.7 246.6,958.7 249.2,958.6C251.9,958.5 254.5,958.4 257.2,958.3C259.9,958.2 262.5,958.1 265.2,958.0C267.9,957.9 270.5,957.8 273.2,957.7C275.8,957.6 278.5,957.5 281.2,957.4C283.8,957.3 286.5,957.2 289.2,957.1C291.8,957.0 294.5,956.9 297.2,956.8C299.8,956.7 302.5,956.6 305.1,956.5C307.8,956.4 310.5,956.3 313.1,956.2C315.8,956.1 318.5,956.1 321.1,956.0C323.8,955.9 326.4,955.8 329.1,955.8C331.8,955.7 334.4,955.6 337.1,955.6C339.8,955.5 342.4,955.5 345.1,955.4C347.8,955.4 350.4,955.3 353.1,955.3C355.7,955.2 358.4,955.2 361.1,955.1C363.7,955.0 366.4,954.9 369.1,954.8C371.7,954.7 374.4,954.5 377.0,954.4C379.7,954.2 382.4,954.0 385.0,953.7C387.7,953.5 390.4,953.2 393.0,952.9C395.7,952.5 398.3,952.2 401.0,951.7C403.7,951.3 406.3,950.8 409.0,950.3C411.7,949.7 414.3,949.2 417.0,948.6C419.7,948.1 422.3,947.5 425.0,947.0C427.6,946.5 430.3,946.0 433.0,945.5C435.6,945.0 438.3,944.6 441.0,944.3C443.6,943.9 446.3,943.7 448.9,943.5C451.6,943.3 454.3,943.3 456.9,943.3C459.6,943.4 462.3,943.6 464.9,943.8C467.6,944.1 470.3,944.4 472.9,944.8C475.6,945.2 478.2,945.7 480.9,946.2C483.6,946.7 486.2,947.3 488.9,947.9C491.6,948.5 494.2,949.1 496.9,949.7C499.5,950.3 502.2,950.9 504.9,951.4C507.5,952.0 510.2,952.5 512.9,953.0C515.5,953.5 518.2,953.9 520.9,954.3C523.5,954.7 526.2,955.0 528.8,955.4C531.5,955.7 534.2,955.9 536.8,956.1C539.5,956.4 542.2,956.6 544.8,956.7C547.5,956.9 550.1,957.0 552.8,957.2C555.5,957.3 558.1,957.4 560.8,957.6C563.5,957.7 566.1,957.8 568.8,957.9C571.4,958.1 574.1,958.2 576.8,958.3C579.4,958.4 582.1,958.5 584.8,958.7C587.4,958.8 590.1,958.9 592.8,959.0C595.4,959.1 598.1,959.2 600.7,959.3C603.4,959.4 606.1,959.5 608.7,959.6C611.4,959.7 614.1,959.8 616.7,959.9C619.4,960.0 622.0,960.1 624.7,960.1C627.4,960.2 630.0,960.3 632.7,960.3C635.4,960.4 638.0,960.4 640.7,960.5C643.4,960.5 646.0,960.6 648.7,960.6C651.3,960.7 654.0,960.7 656.7,960.7C659.3,960.7 662.0,960.8 664.7,960.8C667.3,960.8 670.0,960.8 672.6,960.8C675.3,960.8 678.0,960.9 680.6,960.9C683.3,960.9 686.0,960.9 688.6,960.9C691.3,960.9 693.9,960.9 696.6,960.8C699.3,960.8 701.9,960.8 704.6,960.8C707.3,960.8 709.9,960.8 712.6,960.8C715.3,960.7 717.9,960.7 720.6,960.7C723.2,960.7 725.9,960.7 728.6,960.6C731.2,960.6 733.9,960.6 736.6,960.6C739.2,960.5 741.9,960.5 744.5,960.5C747.2,960.5 749.9,960.4 752.5,960.4C755.2,960.4 757.9,960.4 760.5,960.3C763.2,960.3 765.9,960.3 768.5,960.2C771.2,960.2 773.8,960.2 776.5,960.2C779.2,960.1 781.8,960.1 784.5,960.1C787.2,960.1 789.8,960.1 792.5,960.0C795.1,960.0 797.8,960.0 800.5,960.0C803.1,960.0 805.8,960.0 808.5,960.0C811.1,960.0 813.8,959.9 816.4,959.9C819.1,959.9 821.8,959.9 824.4,959.9C827.1,959.9 829.8,959.9 832.4,959.9C835.1,959.9 837.8,959.9 840.4,959.9C843.1,959.9 845.7,959.9 848.4,959.9C851.1,959.9 853.7,959.9 856.4,959.9C859.1,959.9 861.7,959.8 864.4,959.8C867.0,959.8 869.7,959.8 872.4,959.8C875.0,959.8 877.7,959.8 880.4,959.7C883.0,959.7 885.7,959.7 888.4,959.7C891.0,959.6 893.7,959.6 896.3,959.6C899.0,959.5 901.7,959.5 904.3,959.4C907.0,959.4 909.7,959.3 912.3,959.3C915.0,959.2 917.6,959.1 920.3,959.1C923.0,959.0 925.6,958.9 928.3,958.8C931.0,958.7 933.6,958.5 936.3,958.4C938.9,958.2 941.6,958.1 944.3,957.9C946.9,957.7 949.6,957.5 952.3,957.3C954.9,957.1 957.6,956.8 960.3,956.6C962.9,956.3 965.6,956.1 968.2,955.8C970.9,955.5 973.6,955.3 976.2,955.0C978.9,954.8 981.6,954.6 984.2,954.3C986.9,954.0 989.5,953.7 992.2,953.2C994.9,952.8 997.5,952.3 1000.2,951.7C1002.9,951.1 1005.5,950.3 1008.2,949.4C1010.9,948.4 1013.5,947.4 1016.2,946.1C1018.8,944.8 1021.5,943.3 1024.2,941.6C1026.8,939.9 1029.5,938.0 1032.2,935.9C1034.8,933.8 1037.5,931.5 1040.1,929.1C1042.8,926.6 1045.5,923.9 1048.1,920.9C1050.8,917.9 1053.5,914.7 1056.1,911.3C1058.8,907.9 1061.5,904.4 1064.1,900.7C1066.8,897.0 1069.4,893.3 1072.1,889.5C1074.8,885.8 1077.4,882.0 1080.1,878.2C1082.8,874.5 1085.4,870.7 1088.1,867.1C1090.7,863.5 1093.4,860.1 1096.1,856.9C1098.7,853.8 1101.4,851.0 1104.1,848.6C1106.7,846.2 1109.4,844.2 1112.0,842.6C1114.7,841.0 1117.4,839.8 1120.0,839.0C1122.7,838.2 1125.4,837.8 1128.0,837.7C1130.7,837.7 1133.4,838.0 1136.0,838.8C1138.7,839.5 1141.3,840.7 1144.0,842.4C1146.7,844.1 1149.3,846.3 1152.0,848.9C1154.7,851.5 1157.3,854.4 1160.0,857.6C1162.6,860.9 1165.3,864.4 1168.0,868.0C1170.6,871.6 1173.3,875.3 1176.0,878.9C1178.6,882.5 1181.3,886.1 1184.0,889.5C1186.6,893.0 1189.3,896.3 1191.9,899.3C1194.6,902.4 1197.3,905.2 1199.9,907.8C1202.6,910.5 1205.3,912.9 1207.9,915.1C1210.6,917.3 1213.2,919.3 1215.9,921.2C1218.6,923.0 1221.2,924.7 1223.9,926.2C1226.6,927.7 1229.2,929.1 1231.9,930.3C1234.5,931.5 1237.2,932.5 1239.9,933.4C1242.5,934.3 1245.2,935.0 1247.9,935.7C1250.5,936.4 1253.2,937.0 1255.9,937.6C1258.5,938.1 1261.2,938.7 1263.8,939.3C1266.5,939.8 1269.2,940.4 1271.8,940.9C1274.5,941.4 1277.2,941.9 1279.8,942.3C1282.5,942.8 1285.1,943.2 1287.8,943.6C1290.5,943.9 1293.1,944.3 1295.8,944.6C1298.5,944.9 1301.1,945.2 1303.8,945.4C1306.5,945.7 1309.1,945.9 1311.8,946.2C1314.4,946.4 1317.1,946.7 1319.8,946.9C1322.4,947.1 1325.1,947.3 1327.8,947.5C1330.4,947.6 1333.1,947.8 1335.7,947.9C1338.4,948.1 1341.1,948.2 1343.7,948.3C1346.4,948.4 1349.1,948.5 1351.7,948.5C1354.4,948.6 1357.0,948.7 1359.7,948.7C1362.4,948.8 1365.0,948.8 1367.7,948.8C1370.4,948.8 1373.0,948.8 1375.7,948.8C1378.4,948.8 1381.0,948.8 1383.7,948.8C1386.3,948.7 1389.0,948.7 1391.7,948.7C1394.3,948.6 1397.0,948.6 1399.7,948.5C1402.3,948.4 1405.0,948.4 1407.6,948.3C1410.3,948.2 1413.0,948.2 1415.6,948.1C1418.3,948.0 1421.0,947.9 1423.6,947.8C1426.3,947.7 1429.0,947.6 1431.6,947.5C1434.3,947.4 1436.9,947.3 1439.6,947.2C1442.3,947.1 1444.9,947.0 1447.6,946.9C1450.3,946.8 1452.9,946.7 1455.6,946.6C1458.2,946.5 1460.9,946.3 1463.6,946.2C1466.2,946.1 1468.9,945.9 1471.6,945.8C1474.2,945.6 1476.9,945.5 1479.6,945.3C1482.2,945.1 1484.9,944.9 1487.5,944.7C1490.2,944.5 1492.9,944.3 1495.5,944.1C1498.2,943.9 1500.9,943.6 1503.5,943.4C1506.2,943.1 1508.8,942.9 1511.5,942.6C1514.2,942.3 1516.8,942.0 1519.5,941.7C1522.2,941.4 1524.8,941.1 1527.5,940.8C1530.1,940.5 1532.8,940.2 1535.5,939.9C1538.1,939.6 1540.8,939.3 1543.5,938.9C1546.1,938.6 1548.8,938.3 1551.5,938.0C1554.1,937.7 1556.8,937.4 1559.4,937.1C1562.1,936.9 1564.8,936.6 1567.4,936.3C1570.1,936.0 1572.8,935.8 1575.4,935.5C1578.1,935.3 1580.7,935.1 1583.4,934.8C1586.1,934.6 1588.7,934.3 1591.4,934.1C1594.1,933.9 1596.7,933.6 1599.4,933.4C1602.1,933.2 1604.7,932.9 1607.4,932.7C1610.0,932.4 1612.7,932.1 1615.4,931.9C1618.0,931.6 1620.7,931.3 1623.4,931.0C1626.0,930.7 1628.7,930.4 1631.3,930.0C1634.0,929.7 1636.7,929.4 1639.3,929.0C1642.0,928.6 1644.7,928.2 1647.3,927.8C1650.0,927.4 1652.6,927.0 1655.3,926.6C1658.0,926.2 1660.6,925.7 1663.3,925.3C1666.0,924.9 1668.6,924.5 1671.3,924.0C1674.0,923.6 1676.6,923.2 1679.3,922.8C1681.9,922.4 1684.6,921.9 1687.3,921.5C1689.9,921.2 1692.6,920.8 1695.3,920.4C1697.9,920.0 1700.6,919.7 1703.2,919.3C1705.9,919.0 1708.6,918.7 1711.2,918.3C1713.9,918.0 1716.6,917.7 1719.2,917.4C1721.9,917.0 1724.6,916.7 1727.2,916.4C1729.9,916.0 1732.5,915.7 1735.2,915.3C1737.9,914.9 1740.5,914.6 1743.2,914.1C1745.9,913.7 1748.5,913.3 1751.2,912.9C1753.8,912.4 1756.5,912.0 1759.2,911.5C1761.8,911.0 1764.5,910.5 1767.2,910.0C1769.8,909.5 1772.5,909.0 1775.1,908.4C1777.8,907.9 1780.5,907.3 1783.1,906.7C1785.8,906.1 1788.5,905.5 1791.1,904.9C1793.8,904.3 1796.5,903.6 1799.1,902.9C1801.8,902.3 1804.4,901.6 1807.1,900.9C1809.8,900.2 1812.4,899.5 1815.1,898.7C1817.8,898.0 1820.4,897.2 1823.1,896.4C1825.7,895.6 1828.4,894.9 1831.1,894.0C1833.7,893.2 1836.4,892.4 1839.1,891.6C1841.7,890.8 1844.4,889.9 1847.1,889.1C1849.7,888.3 1852.4,887.5 1855.0,886.6C1857.7,885.8 1860.4,885.0 1863.0,884.1C1865.7,883.3 1868.4,882.5 1871.0,881.6C1873.7,880.8 1876.3,880.0 1879.0,879.2C1881.7,878.3 1884.3,877.5 1887.0,876.7C1889.7,875.9 1892.3,875.0 1895.0,874.2C1897.6,873.4 1900.3,872.6 1903.0,871.8C1905.6,870.9 1908.3,870.1 1911.0,869.3C1913.6,868.5 1916.3,867.7 1919.0,866.8C1921.6,866.0 1924.3,865.2 1926.9,864.4C1929.6,863.5 1932.3,862.7 1934.9,861.9C1937.6,861.0 1940.3,860.2 1942.9,859.3C1945.6,858.5 1948.2,857.6 1950.9,856.7C1953.6,855.9 1956.2,855.0 1958.9,854.1C1961.6,853.2 1964.2,852.3 1966.9,851.4C1969.6,850.4 1972.2,849.5 1974.9,848.5C1977.5,847.6 1980.2,846.6 1982.9,845.6C1985.5,844.6 1988.2,843.6 1990.9,842.5C1993.5,841.5 1996.2,840.4 1998.8,839.4C2001.5,838.3 2004.2,837.2 2006.8,836.0C2009.5,834.9 2012.2,833.8 2014.8,832.6C2017.5,831.4 2020.2,830.2 2022.8,829.0C2025.5,827.8 2028.1,826.5 2030.8,825.2C2033.5,824.0 2036.1,822.7 2038.8,821.3C2041.5,820.0 2044.1,818.6 2046.8,817.2C2049.4,815.8 2052.1,814.4 2054.8,812.9C2057.4,811.4 2060.1,809.9 2062.8,808.4C2065.4,806.8 2068.1,805.3 2070.7,803.7C2073.4,802.1 2076.1,800.5 2078.7,798.9C2081.4,797.2 2084.1,795.6 2086.7,793.9C2089.4,792.2 2092.1,790.6 2094.7,788.9C2097.4,787.2 2100.0,785.5 2102.7,783.8C2105.4,782.1 2108.0,780.3 2110.7,778.5C2113.4,776.7 2116.0,774.9 2118.7,773.0C2121.3,771.1 2124.0,769.1 2126.7,767.0C2129.3,764.9 2132.0,762.8 2134.7,760.5C2137.3,758.2 2140.0,755.9 2142.7,753.4C2145.3,750.9 2148.0,748.3 2150.6,745.6C2153.3,742.9 2156.0,740.1 2158.6,737.2C2161.3,734.3 2164.0,731.3 2166.6,728.2C2169.3,725.1 2171.9,721.8 2174.6,718.5C2177.3,715.2 2179.9,711.8 2182.6,708.2C2185.3,704.7 2187.9,701.0 2190.6,697.2C2193.2,693.3 2195.9,689.3 2198.6,685.1C2201.2,681.0 2203.9,676.7 2206.6,672.2C2209.2,667.8 2211.9,663.2 2214.6,658.4C2217.2,653.7 2219.9,648.7 2222.5,643.5C2225.2,638.3 2227.9,632.9 2230.5,627.1C2233.2,621.3 2235.9,615.2 2238.5,608.9C2241.2,602.6 2243.8,596.1 2246.5,589.4C2249.2,582.7 2251.8,575.9 2254.5,569.1" stroke="#14abe8"/>
<path d="M41.5,959.5C44.2,959.5 46.8,959.6 49.5,959.6C52.1,959.7 54.8,959.7 57.5,959.8C60.1,959.8 62.8,959.9 65.4,959.9C68.1,960.0 70.8,960.0 73.4,960.1C76.1,960.1 78.7,960.1 81.4,960.2C84.1,960.2 86.7,960.3 89.4,960.3C92.0,960.3 94.7,960.3 97.4,960.4C100.0,960.4 102.7,960.4 105.4,960.4C108.0,960.5 110.7,960.5 113.3,960.5C116.0,960.5 118.7,960.5 121.3,960.5C124.0,960.5 126.6,960.5 129.3,960.5C132.0,960.5 134.6,960.5 137.3,960.5C139.9,960.4 142.6,960.4 145.3,960.4C147.9,960.4 150.6,960.3 153.2,960.3C155.9,960.3 158.6,960.2 161.2,960.2C163.9,960.1 166.5,960.1 169.2,960.1C171.9,960.0 174.5,960.0 177.2,959.9C179.8,959.8 182.5,959.8 185.2,959.7C187.8,959.7 190.5,959.6 193.1,959.6C195.8,959.5 198.5,959.4 201.1,959.4C203.8,959.3 206.4,959.2 209.1,959.2C211.8,959.1 214.4,959.1 217.1,959.0C219.7,958.9 222.4,958.9 225.1,958.8C227.7,958.7 230.4,958.7 233.1,958.6C235.7,958.6 238.4,958.5 241.0,958.5C243.7,958.4 246.4,958.3 249.0,958.3C251.7,958.2 254.3,958.2 257.0,958.1C259.7,958.1 262.3,958.0 265.0,958.0C267.6,958.0 270.3,957.9 273.0,957.9C275.6,957.9 278.3,957.8 280.9,957.8C283.6,957.8 286.3,957.7 288.9,957.7C291.6,957.7 294.2,957.6 296.9,957.6C299.6,957.6 302.2,957.6 304.9,957.5C307.5,957.5 310.2,957.5 312.9,957.4C315.5,957.4 318.2,957.4 320.8,957.4C323.5,957.3 326.2,957.3 328.8,957.2C331.5,957.2 334.1,957.2 336.8,957.1C339.5,957.1 342.1,957.0 344.8,957.0C347.5,956.9 350.1,956.9 352.8,956.8C355.4,956.7 358.1,956.7 360.8,956.6C363.4,956.5 366.1,956.5 368.7,956.4C371.4,956.3 374.1,956.2 376.7,956.1C379.4,956.0 382.0,955.9 384.7,955.8C387.4,955.7 390.0,955.5 392.7,955.4C395.3,955.3 398.0,955.1 400.7,955.0C403.3,954.8 406.0,954.7 408.6,954.5C411.3,954.3 414.0,954.1 416.6,953.9C419.3,953.7 421.9,953.5 424.6,953.2C427.3,953.0 429.9,952.7 432.6,952.4C435.2,952.1 437.9,951.8 440.6,951.4C443.2,951.0 445.9,950.6 448.5,950.2C451.2,949.8 453.9,949.3 456.5,948.8C459.2,948.3 461.8,947.8 464.5,947.3C467.2,946.8 469.8,946.3 472.5,945.8C475.2,945.4 477.8,944.9 480.5,944.5C483.1,944.1 485.8,943.8 488.5,943.5C491.1,943.2 493.8,943.0 496.4,942.8C499.1,942.7 501.8,942.7 504.4,942.7C507.1,942.8 509.7,943.0 512.4,943.2C515.1,943.4 517.7,943.7 520.4,944.0C523.0,944.3 525.7,944.7 528.4,945.1C531.0,945.5 533.7,945.9 536.3,946.4C539.0,946.8 541.7,947.3 544.3,947.7C547.0,948.2 549.6,948.6 552.3,949.1C555.0,949.5 557.6,949.9 560.3,950.4C562.9,950.8 565.6,951.2 568.3,951.7C570.9,952.1 573.6,952.5 576.2,952.9C578.9,953.3 581.6,953.7 584.2,954.0C586.9,954.4 589.5,954.7 592.2,955.1C594.9,955.4 597.5,955.7 600.2,956.0C602.9,956.3 605.5,956.6 608.2,956.8C610.8,957.1 613.5,957.3 616.2,957.5C618.8,957.7 621.5,957.9 624.1,958.1C626.8,958.3 629.5,958.4 632.1,958.6C634.8,958.7 637.4,958.8 640.1,958.9C642.8,959.1 645.4,959.2 648.1,959.2C650.7,959.3 653.4,959.4 656.1,959.5C658.7,959.5 661.4,959.6 664.0,959.6C666.7,959.7 669.4,959.7 672.0,959.8C674.7,959.8 677.3,959.8 680.0,959.9C682.7,959.9 685.3,959.9 688.0,959.9C690.6,959.9 693.3,960.0 696.0,960.0C698.6,960.0 701.3,960.0 703.9,960.0C706.6,960.0 709.3,960.1 711.9,960.1C714.6,960.1 717.3,960.1 719.9,960.1C722.6,960.1 725.2,960.1 727.9,960.2C730.6,960.2 733.2,960.2 735.9,960.2C738.5,960.2 741.2,960.2 743.9,960.2C746.5,960.2 749.2,960.3 751.8,960.3C754.5,960.3 757.2,960.3 759.8,960.3C762.5,960.3 765.1,960.3 767.8,960.3C770.5,960.3 773.1,960.4 775.8,960.4C778.4,960.4 781.1,960.4 783.8,960.4C786.4,960.4 789.1,960.4 791.7,960.4C794.4,960.4 797.1,960.4 799.7,960.4C802.4,960.4 805.0,960.4 807.7,960.4C810.4,960.4 813.0,960.4 815.7,960.4C818.3,960.4 821.0,960.4 823.7,960.4C826.3,960.4 829.0,960.4 831.6,960.4C834.3,960.4 837.0,960.4 839.6,960.4C842.3,960.4 845.0,960.4 847.6,960.4C850.3,960.4 852.9,960.4 855.6,960.3C858.3,960.3 860.9,960.3 863.6,960.3C866.2,960.3 868.9,960.3 871.6,960.3C874.2,960.2 876.9,960.2 879.5,960.2C882.2,960.2 884.9,960.2 887.5,960.1C890.2,960.1 892.8,960.1 895.5,960.0C898.2,960.0 900.8,960.0 903.5,960.0C906.1,959.9 908.8,959.9 911.5,959.9C914.1,959.8 916.8,959.8 919.4,959.7C922.1,959.7 924.8,959.7 927.4,959.6C930.1,959.6 932.7,959.6 935.4,959.5C938.1,959.5 940.7,959.4 943.4,959.4C946.0,959.3 948.7,959.3 951.4,959.3C954.0,959.2 956.7,959.2 959.4,959.1C962.0,959.1 964.7,959.0 967.3,959.0C970.0,959.0 972.7,958.9 975.3,958.9C978.0,958.8 980.6,958.8 983.3,958.7C986.0,958.7 988.6,958.7 991.3,958.6C993.9,958.6 996.6,958.5 999.3,958.5C1001.9,958.5 1004.6,958.4 1007.2,958.4C1009.9,958.4 1012.6,958.3 1015.2,958.3C1017.9,958.3 1020.5,958.2 1023.2,958.2C1025.9,958.2 1028.5,958.1 1031.2,958.1C1033.8,958.1 1036.5,958.0 1039.2,958.0C1041.8,958.0 1044.5,957.9 1047.1,957.9C1049.8,957.8 1052.5,957.8 1055.1,957.8C1057.8,957.7 1060.4,957.7 1063.1,957.6C1065.8,957.6 1068.4,957.5 1071.1,957.4C1073.7,957.4 1076.4,957.3 1079.1,957.3C1081.7,957.2 1084.4,957.1 1087.1,957.0C1089.7,957.0 1092.4,956.9 1095.0,956.8C1097.7,956.7 1100.4,956.6 1103.0,956.5C1105.7,956.4 1108.3,956.3 1111.0,956.2C1113.7,956.1 1116.3,956.0 1119.0,955.9C1121.6,955.7 1124.3,955.6 1127.0,955.5C1129.6,955.3 1132.3,955.2 1134.9,955.0C1137.6,954.9 1140.3,954.7 1142.9,954.6C1145.6,954.4 1148.2,954.2 1150.9,954.1C1153.6,953.9 1156.2,953.7 1158.9,953.6C1161.5,953.4 1164.2,953.2 1166.9,953.0C1169.5,952.9 1172.2,952.7 1174.8,952.5C1177.5,952.3 1180.2,952.1 1182.8,952.0C1185.5,951.8 1188.1,951.6 1190.8,951.4C1193.5,951.2 1196.1,951.1 1198.8,950.9C1201.4,950.7 1204.1,950.5 1206.8,950.3C1209.4,950.1 1212.1,949.9 1214.8,949.6C1217.4,949.4 1220.1,949.2 1222.7,948.9C1225.4,948.7 1228.1,948.4 1230.7,948.1C1233.4,947.9 1236.0,947.6 1238.7,947.3C1241.4,946.9 1244.0,946.6 1246.7,946.3C1249.3,945.9 1252.0,945.5 1254.7,945.2C1257.3,944.8 1260.0,944.4 1262.6,943.9C1265.3,943.5 1268.0,943.0 1270.6,942.6C1273.3,942.1 1275.9,941.6 1278.6,941.0C1281.3,940.5 1283.9,939.9 1286.6,939.3C1289.2,938.7 1291.9,938.1 1294.6,937.4C1297.2,936.7 1299.9,936.0 1302.5,935.3C1305.2,934.5 1307.9,933.6 1310.5,932.7C1313.2,931.8 1315.8,930.8 1318.5,929.7C1321.2,928.7 1323.8,927.5 1326.5,926.2C1329.2,924.9 1331.8,923.4 1334.5,921.9C1337.1,920.3 1339.8,918.6 1342.5,916.8C1345.1,915.1 1347.8,913.2 1350.4,911.4C1353.1,909.5 1355.8,907.7 1358.4,905.8C1361.1,903.9 1363.7,902.0 1366.4,900.2C1369.1,898.4 1371.7,896.6 1374.4,894.8C1377.0,893.1 1379.7,891.4 1382.4,889.8C1385.0,888.2 1387.7,886.6 1390.3,885.2C1393.0,883.7 1395.7,882.4 1398.3,881.1C1401.0,879.8 1403.6,878.6 1406.3,877.6C1409.0,876.5 1411.6,875.5 1414.3,874.5C1416.9,873.6 1419.6,872.7 1422.3,871.9C1424.9,871.1 1427.6,870.3 1430.2,869.6C1432.9,868.9 1435.6,868.3 1438.2,867.7C1440.9,867.1 1443.5,866.5 1446.2,866.0C1448.9,865.6 1451.5,865.1 1454.2,864.8C1456.9,864.4 1459.5,864.1 1462.2,863.9C1464.8,863.6 1467.5,863.4 1470.2,863.2C1472.8,863.1 1475.5,862.9 1478.1,862.8C1480.8,862.7 1483.5,862.6 1486.1,862.6C1488.8,862.5 1491.4,862.5 1494.1,862.5C1496.8,862.5 1499.4,862.6 1502.1,862.7C1504.7,862.7 1507.4,862.9 1510.1,863.0C1512.7,863.2 1515.4,863.4 1518.0,863.6C1520.7,863.8 1523.4,864.1 1526.0,864.3C1528.7,864.6 1531.3,865.0 1534.0,865.4C1536.7,865.7 1539.3,866.2 1542.0,866.7C1544.6,867.1 1547.3,867.7 1550.0,868.3C1552.6,868.8 1555.3,869.5 1557.9,870.2C1560.6,870.8 1563.3,871.6 1565.9,872.3C1568.6,873.1 1571.3,873.9 1573.9,874.8C1576.6,875.6 1579.2,876.5 1581.9,877.4C1584.6,878.4 1587.2,879.4 1589.9,880.4C1592.5,881.4 1595.2,882.4 1597.9,883.5C1600.5,884.6 1603.2,885.6 1605.8,886.7C1608.5,887.8 1611.2,888.8 1613.8,889.8C1616.5,890.9 1619.1,891.8 1621.8,892.8C1624.5,893.7 1627.1,894.6 1629.8,895.5C1632.4,896.4 1635.1,897.2 1637.8,898.0C1640.4,898.8 1643.1,899.6 1645.7,900.4C1648.4,901.1 1651.1,901.9 1653.7,902.5C1656.4,903.2 1659.0,903.8 1661.7,904.3C1664.4,904.9 1667.0,905.3 1669.7,905.7C1672.3,906.1 1675.0,906.4 1677.7,906.7C1680.3,906.9 1683.0,907.1 1685.6,907.3C1688.3,907.4 1691.0,907.5 1693.6,907.5C1696.3,907.6 1699.0,907.6 1701.6,907.6C1704.3,907.6 1706.9,907.6 1709.6,907.5C1712.3,907.4 1714.9,907.3 1717.6,907.2C1720.2,907.1 1722.9,906.9 1725.6,906.7C1728.2,906.6 1730.9,906.3 1733.5,906.1C1736.2,905.8 1738.9,905.6 1741.5,905.3C1744.2,905.0 1746.8,904.6 1749.5,904.3C1752.2,903.9 1754.8,903.6 1757.5,903.2C1760.1,902.8 1762.8,902.4 1765.5,901.9C1768.1,901.5 1770.8,901.1 1773.4,900.6C1776.1,900.2 1778.8,899.8 1781.4,899.3C1784.1,898.9 1786.7,898.5 1789.4,898.0C1792.1,897.6 1794.7,897.2 1797.4,896.7C1800.0,896.3 1802.7,895.8 1805.4,895.3C1808.0,894.8 1810.7,894.3 1813.3,893.8C1816.0,893.2 1818.7,892.6 1821.3,892.0C1824.0,891.4 1826.7,890.7 1829.3,890.1C1832.0,889.4 1834.6,888.7 1837.3,888.0C1840.0,887.2 1842.6,886.5 1845.3,885.8C1847.9,885.0 1850.6,884.3 1853.3,883.5C1855.9,882.7 1858.6,882.0 1861.2,881.2C1863.9,880.5 1866.6,879.7 1869.2,878.9C1871.9,878.2 1874.5,877.4 1877.2,876.6C1879.9,875.8 1882.5,875.0 1885.2,874.3C1887.8,873.5 1890.5,872.7 1893.2,871.9C1895.8,871.1 1898.5,870.3 1901.1,869.5C1903.8,868.7 1906.5,867.9 1909.1,867.2C1911.8,866.4 1914.4,865.6 1917.1,864.8C1919.8,864.0 1922.4,863.2 1925.1,862.4C1927.7,861.6 1930.4,860.7 1933.1,859.9C1935.7,859.1 1938.4,858.3 1941.1,857.5C1943.7,856.7 1946.4,855.9 1949.0,855.1C1951.7,854.3 1954.4,853.4 1957.0,852.6C1959.7,851.8 1962.3,851.0 1965.0,850.1C1967.7,849.3 1970.3,848.4 1973.0,847.5C1975.6,846.7 1978.3,845.8 1981.0,844.9C1983.6,844.0 1986.3,843.1 1988.9,842.1C1991.6,841.2 1994.3,840.2 1996.9,839.2C1999.6,838.2 2002.2,837.2 2004.9,836.2C2007.6,835.2 2010.2,834.1 2012.9,833.0C2015.5,832.0 2018.2,830.9 2020.9,829.8C2023.5,828.7 2026.2,827.6 2028.8,826.4C2031.5,825.3 2034.2,824.1 2036.8,823.0C2039.5,821.8 2042.1,820.7 2044.8,819.5C2047.5,818.3 2050.1,817.2 2052.8,816.0C2055.4,814.8 2058.1,813.6 2060.8,812.4C2063.4,811.3 2066.1,810.1 2068.8,808.8C2071.4,807.6 2074.1,806.4 2076.7,805.1C2079.4,803.9 2082.1,802.6 2084.7,801.2C2087.4,799.9 2090.0,798.5 2092.7,797.1C2095.4,795.7 2098.0,794.3 2100.7,792.8C2103.3,791.3 2106.0,789.7 2108.7,788.1C2111.3,786.5 2114.0,784.8 2116.6,783.1C2119.3,781.4 2122.0,779.6 2124.6,777.7C2127.3,775.9 2129.9,774.0 2132.6,772.1C2135.3,770.2 2137.9,768.2 2140.6,766.2C2143.2,764.2 2145.9,762.2 2148.6,760.1C2151.2,758.0 2153.9,755.9 2156.5,753.7C2159.2,751.5 2161.9,749.3 2164.5,747.0C2167.2,744.7 2169.8,742.4 2172.5,740.0C2175.2,737.6 2177.8,735.1 2180.5,732.5C2183.2,729.9 2185.8,727.2 2188.5,724.4C2191.1,721.6 2193.8,718.7 2196.5,715.7C2199.1,712.7 2201.8,709.6 2204.4,706.5C2207.1,703.3 2209.8,700.1 2212.4,696.7C2215.1,693.4 2217.7,690.1 2220.4,686.6C2223.1,683.2 2225.7,679.7 2228.4,676.1C2231.0,672.5 2233.7,668.8 2236.4,664.8C2239.0,660.9 2241.7,656.7 2244.3,652.2C2247.0,647.7 2249.7,643.0 2252.3,638.2C2255.0,633.4 2257.6,628.6 2260.3,623.8" stroke="#a4a4a4"/>
<path d="M41.5,959.7C44.2,959.8 46.8,959.8 49.5,959.9C52.2,960.0 54.8,960.1 57.5,960.1C60.1,960.2 62.8,960.3 65.5,960.4C68.1,960.4 70.8,960.5 73.5,960.6C76.1,960.6 78.8,960.7 81.5,960.7C84.1,960.8 86.8,960.8 89.5,960.9C92.1,961.0 94.8,961.0 97.4,961.0C100.1,961.1 102.8,961.1 105.4,961.2C108.1,961.2 110.8,961.2 113.4,961.2C116.1,961.3 118.8,961.3 121.4,961.3C124.1,961.3 126.8,961.3 129.4,961.3C132.1,961.3 134.7,961.3 137.4,961.3C140.1,961.3 142.7,961.2 145.4,961.2C148.1,961.2 150.7,961.1 153.4,961.1C156.1,961.1 158.7,961.0 161.4,961.0C164.0,960.9 166.7,960.9 169.4,960.8C172.0,960.7 174.7,960.7 177.4,960.6C180.0,960.5 182.7,960.5 185.4,960.4C188.0,960.3 190.7,960.3 193.4,960.2C196.0,960.1 198.7,960.0 201.3,960.0C204.0,959.9 206.7,959.8 209.3,959.7C212.0,959.6 214.7,959.6 217.3,959.5C220.0,959.4 222.7,959.3 225.3,959.2C228.0,959.2 230.6,959.1 233.3,959.0C236.0,959.0 238.6,958.9 241.3,958.8C244.0,958.7 246.6,958.7 249.3,958.6C252.0,958.6 254.6,958.5 257.3,958.4C260.0,958.4 262.6,958.3 265.3,958.3C267.9,958.3 270.6,958.2 273.3,958.2C275.9,958.1 278.6,958.1 281.3,958.1C283.9,958.1 286.6,958.0 289.3,958.0C291.9,958.0 294.6,958.0 297.3,958.0C299.9,958.0 302.6,958.0 305.2,957.9C307.9,957.9 310.6,957.9 313.2,957.9C315.9,957.9 318.6,957.9 321.2,957.9C323.9,957.9 326.6,957.9 329.2,957.9C331.9,958.0 334.5,958.0 337.2,958.0C339.9,958.0 342.5,958.0 345.2,958.0C347.9,958.0 350.5,958.0 353.2,958.0C355.9,958.0 358.5,958.0 361.2,958.0C363.9,958.0 366.5,958.0 369.2,958.0C371.8,958.0 374.5,958.0 377.2,958.0C379.8,958.0 382.5,957.9 385.2,957.9C387.8,957.9 390.5,957.8 393.2,957.8C395.8,957.7 398.5,957.6 401.1,957.6C403.8,957.5 406.5,957.4 409.1,957.3C411.8,957.2 414.5,957.0 417.1,956.9C419.8,956.7 422.5,956.6 425.1,956.4C427.8,956.2 430.5,956.0 433.1,955.8C435.8,955.6 438.4,955.4 441.1,955.1C443.8,954.8 446.4,954.6 449.1,954.3C451.8,954.0 454.4,953.7 457.1,953.3C459.8,953.0 462.4,952.7 465.1,952.3C467.8,952.0 470.4,951.7 473.1,951.4C475.7,951.1 478.4,950.8 481.1,950.5C483.7,950.2 486.4,950.0 489.1,949.8C491.7,949.6 494.4,949.5 497.1,949.4C499.7,949.3 502.4,949.3 505.0,949.3C507.7,949.3 510.4,949.3 513.0,949.4C515.7,949.6 518.4,949.7 521.0,949.9C523.7,950.1 526.4,950.3 529.0,950.5C531.7,950.7 534.4,951.0 537.0,951.3C539.7,951.6 542.3,951.9 545.0,952.1C547.7,952.4 550.3,952.7 553.0,953.0C555.7,953.3 558.3,953.6 561.0,953.9C563.7,954.2 566.3,954.5 569.0,954.8C571.6,955.1 574.3,955.4 577.0,955.7C579.6,955.9 582.3,956.2 585.0,956.4C587.6,956.7 590.3,956.9 593.0,957.1C595.6,957.4 598.3,957.6 601.0,957.8C603.6,958.0 606.3,958.1 608.9,958.3C611.6,958.4 614.3,958.6 616.9,958.7C619.6,958.8 622.3,958.9 624.9,959.0C627.6,959.1 630.3,959.2 632.9,959.3C635.6,959.4 638.3,959.4 640.9,959.5C643.6,959.5 646.2,959.6 648.9,959.6C651.6,959.6 654.2,959.7 656.9,959.7C659.6,959.7 662.2,959.7 664.9,959.7C667.6,959.7 670.2,959.7 672.9,959.7C675.5,959.7 678.2,959.7 680.9,959.7C683.5,959.6 686.2,959.6 688.9,959.6C691.5,959.6 694.2,959.6 696.9,959.5C699.5,959.5 702.2,959.5 704.9,959.5C707.5,959.4 710.2,959.4 712.8,959.4C715.5,959.4 718.2,959.3 720.8,959.3C723.5,959.3 726.2,959.3 728.8,959.3C731.5,959.2 734.2,959.2 736.8,959.2C739.5,959.2 742.2,959.2 744.8,959.2C747.5,959.1 750.1,959.1 752.8,959.1C755.5,959.1 758.1,959.1 760.8,959.1C763.5,959.1 766.1,959.0 768.8,959.0C771.5,959.0 774.1,959.0 776.8,959.0C779.4,959.0 782.1,959.0 784.8,959.0C787.4,959.0 790.1,959.0 792.8,959.0C795.4,959.0 798.1,959.0 800.8,959.0C803.4,959.0 806.1,959.0 808.8,959.0C811.4,959.0 814.1,959.0 816.7,959.0C819.4,959.1 822.1,959.1 824.7,959.1C827.4,959.1 830.1,959.1 832.7,959.1C835.4,959.1 838.1,959.2 840.7,959.2C843.4,959.2 846.0,959.2 848.7,959.2C851.4,959.2 854.0,959.3 856.7,959.3C859.4,959.3 862.0,959.3 864.7,959.3C867.4,959.3 870.0,959.4 872.7,959.4C875.4,959.4 878.0,959.4 880.7,959.4C883.3,959.4 886.0,959.5 888.7,959.5C891.3,959.5 894.0,959.5 896.7,959.5C899.3,959.5 902.0,959.5 904.7,959.5C907.3,959.6 910.0,959.6 912.7,959.6C915.3,959.6 918.0,959.6 920.6,959.6C923.3,959.6 926.0,959.6 928.6,959.6C931.3,959.6 934.0,959.6 936.6,959.6C939.3,959.6 942.0,959.5 944.6,959.5C947.3,959.5 949.9,959.5 952.6,959.5C955.3,959.5 957.9,959.4 960.6,959.4C963.3,959.4 965.9,959.4 968.6,959.3C971.3,959.3 973.9,959.3 976.6,959.3C979.3,959.2 981.9,959.2 984.6,959.2C987.2,959.1 989.9,959.1 992.6,959.1C995.2,959.0 997.9,959.0 1000.6,959.0C1003.2,959.0 1005.9,958.9 1008.6,958.9C1011.2,958.9 1013.9,958.9 1016.5,958.9C1019.2,958.8 1021.9,958.8 1024.5,958.8C1027.2,958.8 1029.9,958.7 1032.5,958.7C1035.2,958.7 1037.9,958.7 1040.5,958.7C1043.2,958.6 1045.9,958.6 1048.5,958.6C1051.2,958.6 1053.8,958.6 1056.5,958.5C1059.2,958.5 1061.8,958.5 1064.5,958.4C1067.2,958.4 1069.8,958.4 1072.5,958.4C1075.2,958.3 1077.8,958.3 1080.5,958.3C1083.2,958.2 1085.8,958.2 1088.5,958.1C1091.1,958.1 1093.8,958.1 1096.5,958.0C1099.1,958.0 1101.8,957.9 1104.5,957.9C1107.1,957.8 1109.8,957.7 1112.5,957.7C1115.1,957.6 1117.8,957.6 1120.4,957.5C1123.1,957.4 1125.8,957.3 1128.4,957.3C1131.1,957.2 1133.8,957.1 1136.4,957.0C1139.1,956.9 1141.8,956.9 1144.4,956.8C1147.1,956.7 1149.8,956.6 1152.4,956.5C1155.1,956.4 1157.7,956.3 1160.4,956.2C1163.1,956.2 1165.7,956.1 1168.4,956.0C1171.1,955.9 1173.7,955.8 1176.4,955.7C1179.1,955.6 1181.7,955.5 1184.4,955.4C1187.0,955.4 1189.7,955.3 1192.4,955.2C1195.0,955.1 1197.7,955.0 1200.4,955.0C1203.0,954.9 1205.7,954.8 1208.4,954.7C1211.0,954.7 1213.7,954.6 1216.4,954.6C1219.0,954.5 1221.7,954.4 1224.3,954.4C1227.0,954.3 1229.7,954.3 1232.3,954.2C1235.0,954.2 1237.7,954.1 1240.3,954.1C1243.0,954.0 1245.7,954.0 1248.3,953.9C1251.0,953.9 1253.7,953.8 1256.3,953.8C1259.0,953.8 1261.6,953.7 1264.3,953.7C1267.0,953.7 1269.6,953.6 1272.3,953.6C1275.0,953.6 1277.6,953.5 1280.3,953.5C1283.0,953.5 1285.6,953.5 1288.3,953.4C1290.9,953.4 1293.6,953.4 1296.3,953.4C1298.9,953.3 1301.6,953.3 1304.3,953.3C1306.9,953.2 1309.6,953.2 1312.3,953.2C1314.9,953.1 1317.6,953.1 1320.3,953.0C1322.9,953.0 1325.6,952.9 1328.2,952.8C1330.9,952.8 1333.6,952.7 1336.2,952.6C1338.9,952.5 1341.6,952.4 1344.2,952.3C1346.9,952.2 1349.6,952.0 1352.2,951.9C1354.9,951.7 1357.6,951.6 1360.2,951.4C1362.9,951.2 1365.5,951.1 1368.2,950.9C1370.9,950.7 1373.5,950.5 1376.2,950.3C1378.9,950.1 1381.5,949.9 1384.2,949.8C1386.9,949.6 1389.5,949.4 1392.2,949.2C1394.8,949.0 1397.5,948.7 1400.2,948.5C1402.8,948.3 1405.5,948.1 1408.2,947.9C1410.8,947.7 1413.5,947.5 1416.2,947.3C1418.8,947.1 1421.5,946.9 1424.2,946.7C1426.8,946.5 1429.5,946.3 1432.1,946.0C1434.8,945.8 1437.5,945.6 1440.1,945.4C1442.8,945.2 1445.5,945.0 1448.1,944.8C1450.8,944.6 1453.5,944.4 1456.1,944.2C1458.8,944.0 1461.4,943.8 1464.1,943.5C1466.8,943.3 1469.4,943.1 1472.1,942.8C1474.8,942.6 1477.4,942.3 1480.1,942.0C1482.8,941.8 1485.4,941.5 1488.1,941.2C1490.8,940.9 1493.4,940.6 1496.1,940.3C1498.7,939.9 1501.4,939.6 1504.1,939.3C1506.7,938.9 1509.4,938.5 1512.1,938.2C1514.7,937.8 1517.4,937.4 1520.1,937.0C1522.7,936.7 1525.4,936.3 1528.1,935.9C1530.7,935.5 1533.4,935.0 1536.0,934.6C1538.7,934.2 1541.4,933.8 1544.0,933.3C1546.7,932.9 1549.4,932.4 1552.0,931.9C1554.7,931.5 1557.4,931.0 1560.0,930.5C1562.7,929.9 1565.3,929.4 1568.0,928.8C1570.7,928.3 1573.3,927.7 1576.0,927.1C1578.7,926.6 1581.3,926.0 1584.0,925.5C1586.7,925.0 1589.3,924.6 1592.0,924.2C1594.7,923.8 1597.3,923.5 1600.0,923.3C1602.6,923.0 1605.3,922.9 1608.0,922.8C1610.6,922.8 1613.3,922.8 1616.0,922.9C1618.6,922.9 1621.3,923.1 1624.0,923.2C1626.6,923.3 1629.3,923.5 1631.9,923.6C1634.6,923.7 1637.3,923.8 1639.9,923.8C1642.6,923.9 1645.3,923.9 1647.9,923.8C1650.6,923.8 1653.3,923.7 1655.9,923.6C1658.6,923.5 1661.3,923.4 1663.9,923.2C1666.6,922.9 1669.2,922.7 1671.9,922.4C1674.6,922.1 1677.2,921.7 1679.9,921.3C1682.6,920.9 1685.2,920.5 1687.9,920.0C1690.6,919.5 1693.2,919.0 1695.9,918.4C1698.6,917.9 1701.2,917.3 1703.9,916.8C1706.5,916.3 1709.2,915.8 1711.9,915.2C1714.5,914.7 1717.2,914.2 1719.9,913.7C1722.5,913.1 1725.2,912.6 1727.9,912.1C1730.5,911.6 1733.2,911.0 1735.8,910.5C1738.5,909.9 1741.2,909.4 1743.8,908.8C1746.5,908.3 1749.2,907.7 1751.8,907.1C1754.5,906.5 1757.2,905.9 1759.8,905.3C1762.5,904.6 1765.2,904.0 1767.8,903.3C1770.5,902.7 1773.1,902.0 1775.8,901.2C1778.5,900.5 1781.1,899.8 1783.8,899.0C1786.5,898.2 1789.1,897.4 1791.8,896.5C1794.5,895.6 1797.1,894.7 1799.8,893.8C1802.4,892.9 1805.1,891.9 1807.8,890.9C1810.4,889.9 1813.1,888.8 1815.8,887.8C1818.4,886.7 1821.1,885.6 1823.8,884.4C1826.4,883.3 1829.1,882.0 1831.8,880.8C1834.4,879.5 1837.1,878.1 1839.7,876.7C1842.4,875.2 1845.1,873.7 1847.7,872.1C1850.4,870.4 1853.1,868.7 1855.7,866.9C1858.4,865.0 1861.1,863.1 1863.7,861.0C1866.4,859.0 1869.1,856.8 1871.7,854.5C1874.4,852.2 1877.0,849.7 1879.7,847.2C1882.4,844.6 1885.0,841.9 1887.7,839.1C1890.4,836.3 1893.0,833.3 1895.7,830.1C1898.4,826.9 1901.0,823.5 1903.7,819.9C1906.3,816.4 1909.0,812.6 1911.7,808.8C1914.3,805.0 1917.0,801.1 1919.7,797.2C1922.3,793.3 1925.0,789.2 1927.7,785.0C1930.3,780.7 1933.0,776.3 1935.7,771.6C1938.3,766.9 1941.0,762.1 1943.6,757.2C1946.3,752.3 1949.0,747.4 1951.6,742.6C1954.3,737.7 1957.0,732.8 1959.6,728.0C1962.3,723.3 1965.0,718.6 1967.6,714.0C1970.3,709.5 1973.0,705.1 1975.6,701.0C1978.3,696.9 1980.9,693.0 1983.6,689.6C1986.3,686.3 1988.9,683.4 1991.6,681.1C1994.3,678.8 1996.9,677.1 1999.6,675.7C2002.3,674.4 2004.9,673.5 2007.6,673.0C2010.2,672.5 2012.9,672.4 2015.6,672.7C2018.2,673.0 2020.9,673.6 2023.6,674.6C2026.2,675.7 2028.9,677.1 2031.6,679.0C2034.2,680.9 2036.9,683.2 2039.6,685.7C2042.2,688.2 2044.9,691.0 2047.5,693.9C2050.2,696.8 2052.9,699.9 2055.5,702.9C2058.2,705.9 2060.9,709.0 2063.5,711.8C2066.2,714.7 2068.9,717.5 2071.5,720.2C2074.2,722.8 2076.8,725.3 2079.5,727.7C2082.2,730.1 2084.8,732.4 2087.5,734.5C2090.2,736.6 2092.8,738.5 2095.5,740.2C2098.2,741.9 2100.8,743.3 2103.5,744.6C2106.2,745.8 2108.8,746.9 2111.5,747.8C2114.1,748.7 2116.8,749.4 2119.5,749.9C2122.1,750.5 2124.8,750.9 2127.5,751.2C2130.1,751.5 2132.8,751.6 2135.5,751.6C2138.1,751.6 2140.8,751.4 2143.5,751.1C2146.1,750.8 2148.8,750.3 2151.4,749.7C2154.1,749.0 2156.8,748.2 2159.4,747.3C2162.1,746.3 2164.8,745.2 2167.4,743.9C2170.1,742.7 2172.8,741.2 2175.4,739.7C2178.1,738.2 2180.7,736.6 2183.4,734.9C2186.1,733.2 2188.7,731.4 2191.4,729.5C2194.1,727.6 2196.7,725.6 2199.4,723.5C2202.1,721.4 2204.7,719.2 2207.4,716.9C2210.1,714.6 2212.7,712.2 2215.4,709.7C2218.0,707.2 2220.7,704.6 2223.4,701.9C2226.0,699.3 2228.7,696.6 2231.4,693.7C2234.0,690.8 2236.7,687.7 2239.4,684.5C2242.0,681.2 2244.7,677.8 2247.3,674.1C2250.0,670.3 2252.7,666.4 2255.3,662.2C2258.0,658.0 2260.7,653.5 2263.3,648.9" stroke="#9558cd"/>
</g>
<path d="M40.9,516.7C43.6,516.7 46.2,516.8 48.9,516.8C51.6,516.8 54.2,516.9 56.9,516.9C59.5,516.9 62.2,516.9 64.9,517.0C67.5,517.0 70.2,517.0 72.9,517.0C75.5,517.0 78.2,517.1 80.8,517.1C83.5,517.1 86.2,517.0 88.8,517.0C91.5,517.0 94.2,517.0 96.8,516.9C99.5,516.9 102.1,516.9 104.8,516.8C107.5,516.7 110.1,516.6 112.8,516.5C115.5,516.4 118.1,516.3 120.8,516.2C123.4,516.1 126.1,515.9 128.8,515.8C131.4,515.7 134.1,515.5 136.8,515.3C139.4,515.2 142.1,515.0 144.7,514.8C147.4,514.7 150.1,514.5 152.7,514.3C155.4,514.1 158.1,514.0 160.7,513.8C163.4,513.6 166.0,513.4 168.7,513.2C171.4,513.0 174.0,512.9 176.7,512.7C179.4,512.5 182.0,512.3 184.7,512.1C187.3,511.9 190.0,511.7 192.7,511.5C195.3,511.3 198.0,511.0 200.7,510.8C203.3,510.6 206.0,510.4 208.6,510.1C211.3,509.9 214.0,509.6 216.6,509.4C219.3,509.1 222.0,508.8 224.6,508.5C227.3,508.2 229.9,507.9 232.6,507.6C235.3,507.2 237.9,506.9 240.6,506.5C243.3,506.1 245.9,505.7 248.6,505.3C251.2,504.8 253.9,504.4 256.6,503.9C259.2,503.3 261.9,502.8 264.6,502.2C267.2,501.6 269.9,501.0 272.5,500.3C275.2,499.7 277.9,498.9 280.5,498.1C283.2,497.4 285.9,496.5 288.5,495.6C291.2,494.7 293.8,493.7 296.5,492.7C299.2,491.7 301.8,490.6 304.5,489.4C307.2,488.2 309.8,487.0 312.5,485.7C315.1,484.4 317.8,483.1 320.5,481.7C323.1,480.2 325.8,478.7 328.5,477.2C331.1,475.6 333.8,474.0 336.4,472.3C339.1,470.6 341.8,468.8 344.4,467.0C347.1,465.2 349.8,463.4 352.4,461.5C355.1,459.6 357.7,457.7 360.4,455.9C363.1,454.0 365.7,452.1 368.4,450.3C371.1,448.4 373.7,446.6 376.4,444.8C379.0,443.0 381.7,441.3 384.4,439.6C387.0,437.9 389.7,436.3 392.4,434.8C395.0,433.3 397.7,431.9 400.3,430.6C403.0,429.3 405.7,428.1 408.3,427.1C411.0,426.1 413.7,425.2 416.3,424.5C419.0,423.8 421.6,423.2 424.3,422.9C427.0,422.5 429.6,422.4 432.3,422.5C435.0,422.6 437.6,422.9 440.3,423.3C442.9,423.8 445.6,424.4 448.3,425.2C450.9,426.0 453.6,427.0 456.3,428.0C458.9,429.1 461.6,430.3 464.2,431.6C466.9,432.9 469.6,434.3 472.2,435.7C474.9,437.2 477.6,438.7 480.2,440.3C482.9,441.9 485.5,443.5 488.2,445.1C490.9,446.8 493.5,448.5 496.2,450.1C498.9,451.8 501.5,453.5 504.2,455.0C506.8,456.6 509.5,458.1 512.2,459.4C514.8,460.7 517.5,461.9 520.2,462.8C522.8,463.7 525.5,464.3 528.1,464.6C530.8,465.0 533.5,465.0 536.1,464.6C538.8,464.3 541.5,463.7 544.1,462.8C546.8,461.9 549.4,460.7 552.1,459.3C554.8,457.9 557.4,456.3 560.1,454.5C562.8,452.7 565.4,450.7 568.1,448.6C570.7,446.5 573.4,444.2 576.1,442.0C578.7,439.7 581.4,437.4 584.1,435.3C586.7,433.1 589.4,431.1 592.0,429.4C594.7,427.7 597.4,426.3 600.0,425.6C602.7,424.8 605.4,424.7 608.0,425.2C610.7,425.8 613.3,427.0 616.0,428.6C618.7,430.2 621.3,432.3 624.0,434.6C626.7,436.9 629.3,439.5 632.0,442.2C634.6,444.9 637.3,447.7 640.0,450.5C642.6,453.3 645.3,456.1 648.0,458.9C650.6,461.6 653.3,464.2 655.9,466.8C658.6,469.3 661.3,471.7 663.9,474.0C666.6,476.2 669.3,478.4 671.9,480.3C674.6,482.3 677.2,484.1 679.9,485.7C682.6,487.4 685.2,488.9 687.9,490.2C690.6,491.5 693.2,492.7 695.9,493.7C698.5,494.8 701.2,495.7 703.9,496.4C706.5,497.2 709.2,497.9 711.9,498.4C714.5,498.9 717.2,499.4 719.8,499.7C722.5,500.1 725.2,500.3 727.8,500.5C730.5,500.7 733.2,500.7 735.8,500.7C738.5,500.7 741.1,500.6 743.8,500.3C746.5,500.1 749.1,499.7 751.8,499.2C754.5,498.6 757.1,497.9 759.8,497.0C762.4,496.1 765.1,495.0 767.8,493.6C770.4,492.2 773.1,490.5 775.8,488.5C778.4,486.6 781.1,484.3 783.7,481.6C786.4,479.0 789.1,476.0 791.7,472.8C794.4,469.5 797.1,466.0 799.7,462.2C802.4,458.5 805.0,454.5 807.7,450.5C810.4,446.4 813.0,442.3 815.7,438.3C818.4,434.3 821.0,430.4 823.7,427.0C826.3,423.7 829.0,420.8 831.7,418.7C834.3,416.6 837.0,415.4 839.7,415.2C842.3,415.0 845.0,415.9 847.6,417.6C850.3,419.3 853.0,421.8 855.6,424.9C858.3,427.9 861.0,431.5 863.6,435.3C866.3,439.0 868.9,443.0 871.6,446.9C874.3,450.8 876.9,454.6 879.6,458.3C882.3,461.9 884.9,465.3 887.6,468.5C890.2,471.7 892.9,474.5 895.6,477.1C898.2,479.7 900.9,482.0 903.6,484.1C906.2,486.1 908.9,487.9 911.5,489.5C914.2,491.0 916.9,492.4 919.5,493.6C922.2,494.8 924.9,495.8 927.5,496.7C930.2,497.5 932.8,498.3 935.5,498.9C938.2,499.6 940.8,500.1 943.5,500.5C946.2,501.0 948.8,501.4 951.5,501.7C954.1,502.0 956.8,502.3 959.5,502.5C962.1,502.6 964.8,502.8 967.5,502.9C970.1,503.0 972.8,503.0 975.4,503.1C978.1,503.1 980.8,503.1 983.4,503.0C986.1,503.0 988.8,502.9 991.4,502.8C994.1,502.7 996.7,502.5 999.4,502.3C1002.1,502.1 1004.7,501.8 1007.4,501.5C1010.1,501.1 1012.7,500.7 1015.4,500.3C1018.0,499.9 1020.7,499.4 1023.4,498.8C1026.0,498.3 1028.7,497.6 1031.4,497.0C1034.0,496.3 1036.7,495.6 1039.3,494.8C1042.0,494.0 1044.7,493.1 1047.3,492.2C1050.0,491.3 1052.7,490.4 1055.3,489.3C1058.0,488.3 1060.6,487.2 1063.3,486.0C1066.0,484.8 1068.6,483.5 1071.3,482.2C1074.0,480.8 1076.6,479.4 1079.3,477.9C1081.9,476.4 1084.6,474.8 1087.3,473.2C1089.9,471.6 1092.6,470.0 1095.3,468.3C1097.9,466.6 1100.6,464.8 1103.2,463.1C1105.9,461.4 1108.6,459.7 1111.2,458.0C1113.9,456.4 1116.6,454.8 1119.2,453.3C1121.9,451.8 1124.5,450.4 1127.2,449.1C1129.9,447.9 1132.5,446.8 1135.2,445.9C1137.9,445.1 1140.5,444.4 1143.2,444.0C1145.8,443.7 1148.5,443.6 1151.2,443.8C1153.8,443.9 1156.5,444.4 1159.2,445.1C1161.8,445.8 1164.5,446.8 1167.1,448.0C1169.8,449.1 1172.5,450.5 1175.1,451.9C1177.8,453.4 1180.5,455.0 1183.1,456.6C1185.8,458.3 1188.4,460.0 1191.1,461.7C1193.8,463.5 1196.4,465.2 1199.1,466.9C1201.8,468.6 1204.4,470.2 1207.1,471.7C1209.7,473.2 1212.4,474.5 1215.1,475.7C1217.7,477.0 1220.4,478.0 1223.1,479.0C1225.7,479.9 1228.4,480.7 1231.0,481.4C1233.7,482.1 1236.4,482.7 1239.0,483.2C1241.7,483.7 1244.4,484.0 1247.0,484.3C1249.7,484.6 1252.3,484.8 1255.0,485.0C1257.7,485.1 1260.3,485.2 1263.0,485.1C1265.7,485.1 1268.3,485.1 1271.0,484.9C1273.6,484.8 1276.3,484.5 1279.0,484.3C1281.6,484.0 1284.3,483.6 1287.0,483.2C1289.6,482.8 1292.3,482.2 1294.9,481.7C1297.6,481.1 1300.3,480.5 1302.9,479.8C1305.6,479.1 1308.3,478.4 1310.9,477.6C1313.6,476.8 1316.2,476.0 1318.9,475.1C1321.6,474.2 1324.2,473.3 1326.9,472.3C1329.6,471.4 1332.2,470.3 1334.9,469.3C1337.5,468.2 1340.2,467.0 1342.9,465.8C1345.5,464.6 1348.2,463.3 1350.9,462.0C1353.5,460.6 1356.2,459.2 1358.8,457.7C1361.5,456.2 1364.2,454.7 1366.8,453.1C1369.5,451.5 1372.2,449.8 1374.8,448.1C1377.5,446.4 1380.1,444.6 1382.8,442.8C1385.5,441.0 1388.1,439.2 1390.8,437.3C1393.5,435.4 1396.1,433.5 1398.8,431.5C1401.4,429.5 1404.1,427.5 1406.8,425.4C1409.4,423.4 1412.1,421.3 1414.8,419.2C1417.4,417.1 1420.1,414.9 1422.7,412.8C1425.4,410.7 1428.1,408.5 1430.7,406.4C1433.4,404.2 1436.1,402.1 1438.7,400.0C1441.4,398.0 1444.0,395.9 1446.7,394.0C1449.4,392.0 1452.0,390.2 1454.7,388.4C1457.4,386.6 1460.0,384.9 1462.7,383.3C1465.3,381.7 1468.0,380.3 1470.7,378.9C1473.3,377.6 1476.0,376.4 1478.7,375.3C1481.3,374.3 1484.0,373.4 1486.6,372.6C1489.3,371.9 1492.0,371.3 1494.6,370.9C1497.3,370.5 1500.0,370.3 1502.6,370.2C1505.3,370.1 1507.9,370.2 1510.6,370.5C1513.3,370.8 1515.9,371.2 1518.6,371.9C1521.3,372.5 1523.9,373.3 1526.6,374.3C1529.2,375.3 1531.9,376.5 1534.6,377.8C1537.2,379.1 1539.9,380.5 1542.6,382.1C1545.2,383.7 1547.9,385.4 1550.5,387.2C1553.2,389.0 1555.9,390.8 1558.5,392.7C1561.2,394.6 1563.9,396.6 1566.5,398.6C1569.2,400.5 1571.8,402.5 1574.5,404.5C1577.2,406.5 1579.8,408.5 1582.5,410.5C1585.2,412.5 1587.8,414.4 1590.5,416.4C1593.1,418.3 1595.8,420.1 1598.5,422.0C1601.1,423.8 1603.8,425.5 1606.5,427.2C1609.1,428.9 1611.8,430.6 1614.4,432.1C1617.1,433.7 1619.8,435.2 1622.4,436.6C1625.1,438.0 1627.8,439.3 1630.4,440.5C1633.1,441.7 1635.7,442.9 1638.4,443.9C1641.1,445.0 1643.7,446.0 1646.4,446.8C1649.1,447.7 1651.7,448.5 1654.4,449.2C1657.0,450.0 1659.7,450.6 1662.4,451.1C1665.0,451.6 1667.7,452.0 1670.4,452.4C1673.0,452.7 1675.7,453.0 1678.3,453.2C1681.0,453.4 1683.7,453.5 1686.3,453.6C1689.0,453.6 1691.7,453.7 1694.3,453.6C1697.0,453.6 1699.6,453.5 1702.3,453.4C1705.0,453.3 1707.6,453.1 1710.3,452.9C1713.0,452.7 1715.6,452.5 1718.3,452.2C1720.9,452.0 1723.6,451.7 1726.3,451.3C1728.9,451.0 1731.6,450.7 1734.3,450.3C1736.9,449.9 1739.6,449.5 1742.2,449.1C1744.9,448.6 1747.6,448.2 1750.2,447.7C1752.9,447.2 1755.6,446.7 1758.2,446.1C1760.9,445.6 1763.5,445.0 1766.2,444.3C1768.9,443.7 1771.5,443.0 1774.2,442.3C1776.9,441.6 1779.5,440.8 1782.2,440.0C1784.8,439.1 1787.5,438.3 1790.2,437.4C1792.8,436.5 1795.5,435.5 1798.2,434.5C1800.8,433.6 1803.5,432.6 1806.1,431.5C1808.8,430.5 1811.5,429.4 1814.1,428.2C1816.8,427.1 1819.5,425.8 1822.1,424.5C1824.8,423.2 1827.4,421.9 1830.1,420.4C1832.8,418.9 1835.4,417.3 1838.1,415.7C1840.8,414.0 1843.4,412.3 1846.1,410.5C1848.7,408.6 1851.4,406.7 1854.1,404.6C1856.7,402.6 1859.4,400.5 1862.1,398.2C1864.7,395.9 1867.4,393.5 1870.0,391.0C1872.7,388.5 1875.4,385.8 1878.0,383.0C1880.7,380.2 1883.4,377.2 1886.0,374.0C1888.7,370.8 1891.3,367.4 1894.0,363.8C1896.7,360.2 1899.3,356.4 1902.0,352.4C1904.7,348.3 1907.3,344.1 1910.0,339.7C1912.6,335.2 1915.3,330.6 1918.0,325.8C1920.6,321.1 1923.3,316.2 1926.0,311.2C1928.6,306.2 1931.3,301.1 1933.9,295.9C1936.6,290.8 1939.3,285.5 1941.9,280.1C1944.6,274.8 1947.3,269.3 1949.9,263.7C1952.6,258.2 1955.2,252.6 1957.9,247.1C1960.6,241.6 1963.2,236.1 1965.9,230.9C1968.6,225.6 1971.2,220.6 1973.9,216.0C1976.5,211.4 1979.2,207.2 1981.9,203.5C1984.5,199.8 1987.2,196.6 1989.9,194.0C1992.5,191.4 1995.2,189.5 1997.8,188.1C2000.5,186.7 2003.2,185.9 2005.8,185.6C2008.5,185.3 2011.2,185.4 2013.8,186.1C2016.5,186.7 2019.1,187.8 2021.8,189.4C2024.5,190.9 2027.1,192.9 2029.8,195.4C2032.5,197.8 2035.1,200.6 2037.8,203.8C2040.4,207.0 2043.1,210.5 2045.8,214.2C2048.4,217.8 2051.1,221.7 2053.8,225.5C2056.4,229.3 2059.1,233.0 2061.7,236.6C2064.4,240.2 2067.1,243.7 2069.7,246.8C2072.4,250.0 2075.1,253.0 2077.7,255.7C2080.4,258.4 2083.0,260.9 2085.7,263.1C2088.4,265.3 2091.0,267.3 2093.7,269.1C2096.4,270.8 2099.0,272.4 2101.7,273.6C2104.3,274.9 2107.0,276.0 2109.7,276.8C2112.3,277.5 2115.0,278.1 2117.7,278.3C2120.3,278.5 2123.0,278.4 2125.6,278.0C2128.3,277.5 2131.0,276.8 2133.6,275.8C2136.3,274.8 2139.0,273.6 2141.6,272.1C2144.3,270.6 2146.9,269.0 2149.6,267.2C2152.3,265.4 2154.9,263.4 2157.6,261.4C2160.3,259.3 2162.9,257.1 2165.6,254.8C2168.2,252.5 2170.9,250.0 2173.6,247.5C2176.2,244.9 2178.9,242.2 2181.6,239.4C2184.2,236.6 2186.9,233.6 2189.5,230.5C2192.2,227.5 2194.9,224.2 2197.5,220.9C2200.2,217.5 2202.9,214.0 2205.5,210.4C2208.2,206.7 2210.8,202.9 2213.5,199.0C2216.2,195.0 2218.8,190.9 2221.5,186.6C2224.2,182.3 2226.8,177.8 2229.5,173.2C2232.1,168.6 2234.8,163.8 2237.5,158.8C2240.1,153.9 2242.8,148.8 2245.5,143.6C2248.1,138.3 2250.8,133.0 2253.4,127.6" fill="none" stroke="#000" stroke-width="8.0" stroke-linecap="round" stroke-linejoin="round"/>
</g>
<g stroke="#000" stroke-width="4" fill="none">
<path d="M43.1,1003.8 H2341.6" stroke-linecap="square"/>
<path d="M43.1,1003.8 V986.0"/>
<path d="M331.8,1003.8 V986.0"/>
<path d="M616.7,1003.8 V986.0"/>
<path d="M905.8,1003.8 V986.0"/>
<path d="M1190.0,1003.8 V986.0"/>
<path d="M1478.8,1003.8 V986.0"/>
<path d="M1763.6,1003.8 V986.0"/>
<path d="M2053.0,1003.8 V986.0"/>
<path d="M2341.6,1003.8 V986.0"/>
</g>
<path d="M176.2,55.2 V235.3" stroke="#000" stroke-width="4.8" fill="none"/>
<path d="M176.2,31.8 l13.3,25.4 h-26.6 z"/>
<path d="M176.2,258.7 l13.3,-25.4 h-26.6 z"/>
<text x="226.0" y="148.5" font-size="53.5">5 µA</text>
<text x="403.7" y="385.8" font-size="53.5">AA</text>
<text x="579.5" y="385.8" font-size="53.5">LD</text>
<text x="801.0" y="385.8" font-size="53.5">AC</text>
<text x="1119.5" y="385.8" font-size="53.5">DI</text>
<text x="1459.2" y="309.5" font-size="53.5">AS</text>
<text x="1955.5" y="123.4" font-size="53.5">CA</text>
<text x="403.0" y="738.4" font-size="53.5">AA</text>
<text x="603.0" y="752.5" font-size="53.5">LD</text>
<text x="836.6" y="752.5" font-size="53.5">AC</text>
<text x="1113.0" y="752.5" font-size="53.5">DI</text>
<text x="1428.6" y="752.5" font-size="53.5">AS</text>
<text x="1934.5" y="602.2" font-size="53.5">CA</text>
<text x="42.3" y="1103.3" font-size="62" text-anchor="middle">0</text>
<text x="328.0" y="1103.3" font-size="62" text-anchor="middle">0.2</text>
<text x="613.8" y="1103.3" font-size="62" text-anchor="middle">0.4</text>
<text x="904.5" y="1103.3" font-size="62" text-anchor="middle">0.6</text>
<text x="1191.0" y="1103.3" font-size="62" text-anchor="middle">0.8</text>
<text x="1477.0" y="1103.3" font-size="62" text-anchor="middle">1</text>
<text x="1765.0" y="1103.3" font-size="62" text-anchor="middle">1.2</text>
<text x="2051.0" y="1103.3" font-size="62" text-anchor="middle">1.4</text>
<text x="2338.0" y="1103.3" font-size="62" text-anchor="middle">1.6</text>
<text x="1188.8" y="1196.6" font-size="62" font-weight="bold" text-anchor="middle">Potential (V)</text>
</g>
</svg></body></html>
